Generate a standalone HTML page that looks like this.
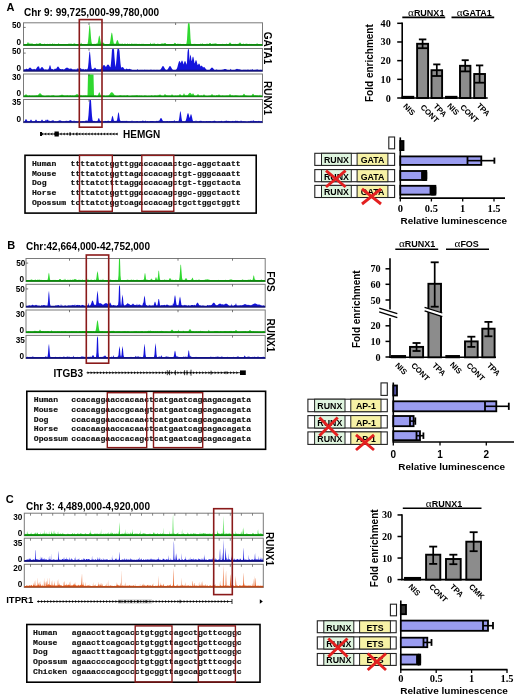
<!DOCTYPE html>
<html><head><meta charset="utf-8"><style>
html,body{margin:0;padding:0;background:#fff;}
svg{display:block;filter:blur(0.3px);}
</style></head><body>
<svg width="520" height="698" viewBox="0 0 520 698">
<rect width="520" height="698" fill="#fff"/>
<text x="6.4" y="10.6" font-family="Liberation Sans" font-size="11" font-weight="bold" text-anchor="start" fill="#000">A</text>
<text x="24" y="15.5" font-family="Liberation Sans" font-size="10" font-weight="bold" text-anchor="start" fill="#000">Chr 9: 99,725,000-99,780,000</text>
<rect x="23.50" y="22.80" width="239.00" height="22.70" fill="none" stroke="#7a7a7a" stroke-width="1"/>
<polygon points="24.00,44.9 24.00,44.7 24.50,44.5 25.00,44.2 25.50,44.5 26.00,44.5 26.50,43.9 27.00,43.7 27.50,42.8 28.00,41.9 28.50,42.8 29.00,43.8 29.50,43.7 30.00,42.4 30.50,44.0 31.00,43.7 31.50,43.5 32.00,43.5 32.50,43.4 33.00,43.9 33.50,44.2 34.00,44.1 34.50,44.2 35.00,44.2 35.50,44.1 36.00,43.8 36.50,43.5 37.00,43.4 37.50,43.9 38.00,43.6 38.50,43.7 39.00,43.7 39.50,43.1 40.00,42.9 40.50,43.1 41.00,43.7 41.50,44.1 42.00,43.8 42.50,44.2 43.00,44.5 43.50,44.4 44.00,43.9 44.50,43.6 45.00,44.1 45.50,44.4 46.00,44.3 46.50,44.4 47.00,44.0 47.50,43.7 48.00,43.9 48.50,43.9 49.00,43.9 49.50,43.8 50.00,43.9 50.50,43.8 51.00,44.0 51.50,44.0 52.00,44.3 52.50,43.0 53.00,44.0 53.50,43.9 54.00,43.8 54.50,43.7 55.00,44.2 55.50,44.0 56.00,44.2 56.50,44.0 57.00,44.1 57.50,44.2 58.00,44.2 58.50,42.9 59.00,43.8 59.50,44.1 60.00,44.2 60.50,44.2 61.00,44.4 61.50,44.4 62.00,44.3 62.50,44.4 63.00,44.1 63.50,44.1 64.00,44.3 64.50,44.4 65.00,44.0 65.50,44.2 66.00,44.0 66.50,44.1 67.00,44.2 67.50,44.3 68.00,44.2 68.50,44.2 69.00,42.7 69.50,43.9 70.00,44.0 70.50,43.7 71.00,43.6 71.50,43.7 72.00,44.0 72.50,44.2 73.00,44.0 73.50,43.8 74.00,43.6 74.50,43.4 75.00,43.4 75.50,44.0 76.00,44.2 76.50,44.0 77.00,44.1 77.50,44.0 78.00,44.2 78.50,44.1 79.00,44.2 79.50,44.1 80.00,44.3 80.50,43.9 81.00,42.6 81.50,43.6 82.00,43.9 82.50,43.9 83.00,44.0 83.50,44.3 84.00,44.5 84.50,44.6 85.00,44.1 85.50,44.1 86.00,44.2 86.50,44.0 87.00,44.1 87.50,43.9 88.00,41.5 88.50,36.5 89.00,29.8 89.50,24.9 90.00,25.5 90.50,31.1 91.00,37.7 91.50,42.1 92.00,43.8 92.50,44.1 93.00,43.9 93.50,44.0 94.00,43.7 94.50,43.9 95.00,43.7 95.50,43.9 96.00,43.7 96.50,43.5 97.00,43.6 97.50,43.6 98.00,41.6 98.50,38.5 99.00,35.9 99.50,35.6 100.00,37.9 100.50,41.0 101.00,43.3 101.50,43.7 102.00,42.2 102.50,42.7 103.00,42.4 103.50,42.7 104.00,43.4 104.50,43.8 105.00,44.1 105.50,44.0 106.00,44.1 106.50,44.1 107.00,44.1 107.50,44.1 108.00,44.1 108.50,44.3 109.00,44.0 109.50,44.0 110.00,42.4 110.50,39.5 111.00,35.8 111.50,32.9 112.00,32.5 112.50,35.0 113.00,38.8 113.50,41.9 114.00,43.8 114.50,43.7 115.00,43.6 115.50,43.9 116.00,43.0 116.50,41.6 117.00,40.3 117.50,39.9 118.00,40.7 118.50,42.2 119.00,43.5 119.50,43.7 120.00,43.7 120.50,43.9 121.00,43.6 121.50,43.9 122.00,43.8 122.50,43.6 123.00,43.9 123.50,44.1 124.00,43.9 124.50,43.7 125.00,43.5 125.50,43.8 126.00,44.2 126.50,43.9 127.00,44.0 127.50,43.3 128.00,44.0 128.50,44.2 129.00,43.8 129.50,43.8 130.00,44.1 130.50,44.3 131.00,43.9 131.50,43.6 132.00,43.6 132.50,43.9 133.00,43.8 133.50,44.1 134.00,43.7 134.50,43.8 135.00,43.9 135.50,43.8 136.00,43.8 136.50,43.8 137.00,44.1 137.50,43.9 138.00,43.7 138.50,43.9 139.00,43.9 139.50,43.8 140.00,44.0 140.50,44.3 141.00,44.0 141.50,43.8 142.00,44.1 142.50,43.8 143.00,43.9 143.50,43.7 144.00,44.0 144.50,43.9 145.00,44.1 145.50,44.3 146.00,44.5 146.50,44.1 147.00,44.3 147.50,44.2 148.00,43.9 148.50,43.9 149.00,44.0 149.50,44.0 150.00,44.2 150.50,42.5 151.00,43.7 151.50,43.9 152.00,43.9 152.50,43.6 153.00,43.9 153.50,43.9 154.00,42.4 154.50,43.8 155.00,43.8 155.50,44.1 156.00,44.4 156.50,44.1 157.00,44.0 157.50,43.7 158.00,43.6 158.50,44.1 159.00,44.3 159.50,44.1 160.00,44.2 160.50,44.0 161.00,43.7 161.50,43.5 162.00,43.5 162.50,43.5 163.00,43.4 163.50,43.5 164.00,43.7 164.50,43.1 165.00,42.9 165.50,43.1 166.00,43.7 166.50,44.2 167.00,43.9 167.50,44.2 168.00,44.0 168.50,44.1 169.00,44.0 169.50,44.3 170.00,44.0 170.50,44.0 171.00,44.2 171.50,44.2 172.00,44.5 172.50,44.5 173.00,43.8 173.50,44.3 174.00,43.7 174.50,42.7 175.00,42.9 175.50,43.1 176.00,43.7 176.50,44.3 177.00,44.0 177.50,43.8 178.00,43.6 178.50,43.9 179.00,43.7 179.50,43.9 180.00,43.8 180.50,43.8 181.00,44.2 181.50,44.5 182.00,44.2 182.50,44.3 183.00,44.2 183.50,43.8 184.00,44.2 184.50,44.1 185.00,44.3 185.50,43.9 186.00,44.0 186.50,43.4 187.00,39.5 187.50,30.8 188.00,23.3 188.50,23.3 189.00,23.3 189.50,23.3 190.00,28.5 190.50,38.2 191.00,42.9 191.50,44.3 192.00,44.5 192.50,44.1 193.00,44.4 193.50,44.0 194.00,43.7 194.50,43.9 195.00,43.8 195.50,43.9 196.00,44.0 196.50,44.3 197.00,44.5 197.50,44.2 198.00,44.4 198.50,44.2 199.00,44.4 199.50,43.9 200.00,43.9 200.50,43.7 201.00,43.6 201.50,44.0 202.00,44.3 202.50,42.7 203.00,44.5 203.50,44.6 204.00,44.6 204.50,44.3 205.00,44.0 205.50,44.1 206.00,44.1 206.50,43.8 207.00,43.7 207.50,43.8 208.00,43.7 208.50,43.9 209.00,43.7 209.50,43.1 210.00,42.9 210.50,43.1 211.00,43.7 211.50,43.9 212.00,44.1 212.50,43.8 213.00,43.6 213.50,43.7 214.00,43.8 214.50,43.5 215.00,43.4 215.50,43.4 216.00,43.3 216.50,43.7 217.00,44.1 217.50,43.9 218.00,43.9 218.50,44.3 219.00,44.3 219.50,44.3 220.00,44.0 220.50,44.3 221.00,44.2 221.50,44.4 222.00,44.1 222.50,43.7 223.00,43.9 223.50,44.1 224.00,44.0 224.50,44.1 225.00,44.2 225.50,43.9 226.00,44.1 226.50,43.6 227.00,43.9 227.50,44.2 228.00,44.3 228.50,44.1 229.00,43.4 229.50,42.7 230.00,42.4 230.50,42.7 231.00,43.4 231.50,44.1 232.00,43.9 232.50,44.1 233.00,44.1 233.50,44.0 234.00,43.8 234.50,44.1 235.00,43.9 235.50,43.7 236.00,44.0 236.50,44.3 237.00,43.9 237.50,44.0 238.00,43.7 238.50,43.7 239.00,43.4 239.50,42.7 240.00,42.4 240.50,42.7 241.00,43.4 241.50,44.0 242.00,44.3 242.50,44.1 243.00,43.8 243.50,43.6 244.00,44.1 244.50,44.0 245.00,44.2 245.50,43.8 246.00,43.8 246.50,43.8 247.00,43.6 247.50,44.0 248.00,44.2 248.50,43.9 249.00,44.1 249.50,43.7 250.00,43.9 250.50,44.2 251.00,43.8 251.50,44.1 252.00,44.3 252.50,44.0 253.00,43.9 253.50,44.3 254.00,43.9 254.50,44.1 255.00,44.2 255.50,44.5 256.00,43.9 256.50,43.7 257.00,43.4 257.50,43.6 258.00,44.1 258.50,44.3 259.00,43.9 259.50,44.3 260.00,44.1 260.50,44.4 261.00,43.9 261.50,44.2 262.00,44.4 262.00,44.9" fill="#2fd82f"/>
<line x1="23.50" y1="44.90" x2="262.50" y2="44.90" stroke="#0c8c0c" stroke-width="1.6"/>
<line x1="89.00" y1="22.80" x2="89.00" y2="25.00" stroke="#555" stroke-width="0.8"/>
<line x1="175.60" y1="22.80" x2="175.60" y2="25.00" stroke="#555" stroke-width="0.8"/>
<line x1="23.50" y1="27.40" x2="25.70" y2="27.40" stroke="#555" stroke-width="0.8"/>
<rect x="23.50" y="48.50" width="239.00" height="22.70" fill="none" stroke="#7a7a7a" stroke-width="1"/>
<polygon points="24.00,70.6 24.00,69.9 24.50,69.3 25.00,69.0 25.50,69.6 26.00,68.9 26.50,68.6 27.00,68.9 27.50,69.0 28.00,69.4 28.50,68.8 29.00,68.2 29.50,67.8 30.00,67.6 30.50,67.8 31.00,68.2 31.50,68.8 32.00,69.3 32.50,69.2 33.00,69.5 33.50,69.2 34.00,68.8 34.50,69.1 35.00,69.5 35.50,69.6 36.00,69.0 36.50,68.2 37.00,67.4 37.50,66.8 38.00,66.6 38.50,66.5 39.00,66.3 39.50,68.2 40.00,69.0 40.50,68.5 41.00,67.8 41.50,67.3 42.00,67.1 42.50,67.3 43.00,67.8 43.50,68.5 44.00,69.2 44.50,69.7 45.00,69.5 45.50,69.6 46.00,69.4 46.50,69.5 47.00,69.9 47.50,69.4 48.00,69.7 48.50,68.9 49.00,68.1 49.50,66.1 50.00,65.1 50.50,66.1 51.00,68.1 51.50,69.3 52.00,69.0 52.50,68.9 53.00,69.5 53.50,69.8 54.00,69.8 54.50,69.0 55.00,68.5 55.50,68.8 56.00,69.0 56.50,68.2 57.00,67.4 57.50,66.8 58.00,66.6 58.50,66.8 59.00,67.4 59.50,68.2 60.00,68.9 60.50,68.9 61.00,69.1 61.50,69.4 62.00,69.0 62.50,69.3 63.00,69.1 63.50,69.7 64.00,69.6 64.50,69.2 65.00,68.8 65.50,68.3 66.00,68.0 66.50,67.7 67.00,67.6 67.50,67.7 68.00,68.0 68.50,68.3 69.00,68.8 69.50,68.7 70.00,68.7 70.50,68.6 71.00,68.6 71.50,68.7 72.00,68.8 72.50,69.5 73.00,69.4 73.50,69.6 74.00,69.3 74.50,69.3 75.00,69.8 75.50,69.7 76.00,68.6 76.50,69.7 77.00,69.4 77.50,67.7 78.00,69.3 78.50,69.1 79.00,67.9 79.50,68.2 80.00,68.1 80.50,68.2 81.00,68.6 81.50,69.0 82.00,69.5 82.50,69.3 83.00,68.7 83.50,69.1 84.00,69.7 84.50,69.4 85.00,69.7 85.50,69.1 86.00,69.2 86.50,69.4 87.00,69.5 87.50,68.9 88.00,67.3 88.50,62.5 89.00,56.0 89.50,51.4 90.00,52.0 90.50,57.3 91.00,63.7 91.50,67.5 92.00,69.3 92.50,68.9 93.00,69.3 93.50,68.7 94.00,68.8 94.50,68.0 95.00,67.6 95.50,68.0 96.00,68.8 96.50,69.2 97.00,69.2 97.50,68.9 98.00,69.6 98.50,69.5 99.00,68.9 99.50,69.6 100.00,69.5 100.50,69.2 101.00,68.8 101.50,68.1 102.00,67.3 102.50,66.4 103.00,65.7 103.50,65.3 104.00,65.1 104.50,65.3 105.00,65.7 105.50,66.4 106.00,67.0 106.50,66.1 107.00,65.3 107.50,64.8 108.00,64.6 108.50,64.8 109.00,65.3 109.50,66.1 110.00,67.0 110.50,67.2 111.00,63.1 111.50,56.9 112.00,49.4 112.50,49.0 113.00,49.0 113.50,49.0 114.00,49.4 114.50,56.9 115.00,63.1 115.50,67.2 116.00,64.3 116.50,59.1 117.00,52.4 117.50,49.0 118.00,49.0 118.50,49.0 119.00,49.0 119.50,51.0 120.00,57.8 120.50,63.4 121.00,67.1 121.50,67.8 122.00,67.3 122.50,67.1 123.00,67.3 123.50,67.8 124.00,68.5 124.50,69.2 125.00,69.2 125.50,69.5 126.00,68.9 126.50,68.6 127.00,68.7 127.50,69.2 128.00,69.1 128.50,69.3 129.00,68.9 129.50,68.7 130.00,69.0 130.50,69.3 131.00,69.4 131.50,69.5 132.00,70.1 132.50,70.0 133.00,70.3 133.50,69.9 134.00,69.9 134.50,70.1 135.00,70.2 135.50,70.2 136.00,70.3 136.50,70.2 137.00,70.2 137.50,68.8 138.00,70.1 138.50,69.9 139.00,69.9 139.50,70.1 140.00,70.2 140.50,69.9 141.00,69.8 141.50,70.2 142.00,69.8 142.50,70.0 143.00,70.1 143.50,69.9 144.00,70.0 144.50,69.7 145.00,69.8 145.50,70.1 146.00,69.9 146.50,70.1 147.00,69.8 147.50,69.9 148.00,70.1 148.50,70.1 149.00,70.2 149.50,70.4 150.00,70.4 150.50,70.3 151.00,69.0 151.50,70.4 152.00,70.2 152.50,70.3 153.00,70.4 153.50,70.0 154.00,69.7 154.50,70.1 155.00,70.0 155.50,70.0 156.00,69.9 156.50,70.0 157.00,69.8 157.50,70.0 158.00,70.2 158.50,69.9 159.00,70.1 159.50,70.2 160.00,70.0 160.50,69.5 161.00,68.7 161.50,67.9 162.00,67.0 162.50,66.3 163.00,66.1 163.50,66.3 164.00,67.0 164.50,67.9 165.00,68.7 165.50,69.5 166.00,69.9 166.50,70.0 167.00,70.0 167.50,69.5 168.00,68.7 168.50,67.9 169.00,67.0 169.50,66.3 170.00,66.1 170.50,66.3 171.00,67.0 171.50,67.9 172.00,68.7 172.50,69.5 173.00,70.0 173.50,70.1 174.00,69.9 174.50,70.0 175.00,70.0 175.50,70.0 176.00,69.7 176.50,69.3 177.00,68.2 177.50,66.7 178.00,64.8 178.50,63.0 179.00,61.6 179.50,61.1 180.00,61.6 180.50,63.0 181.00,62.6 181.50,61.1 182.00,60.6 182.50,61.1 183.00,62.6 183.50,64.5 184.00,63.0 184.50,61.6 185.00,61.1 185.50,61.6 186.00,63.0 186.50,64.8 187.00,62.6 187.50,52.4 188.00,49.0 188.50,49.0 189.00,50.1 189.50,60.9 190.00,56.5 190.50,54.6 191.00,56.5 191.50,60.9 192.00,60.2 192.50,57.6 193.00,56.6 193.50,57.6 194.00,60.2 194.50,63.4 195.00,62.5 195.50,60.7 196.00,60.1 196.50,60.7 197.00,62.5 197.50,64.7 198.00,65.0 198.50,64.0 199.00,63.6 199.50,64.0 200.00,65.0 200.50,66.4 201.00,65.9 201.50,65.6 202.00,65.9 202.50,66.6 203.00,67.6 203.50,67.3 204.00,67.1 204.50,67.3 205.00,67.8 205.50,68.5 206.00,69.2 206.50,69.7 207.00,70.0 207.50,69.9 208.00,69.9 208.50,70.0 209.00,70.1 209.50,69.9 210.00,69.4 210.50,68.8 211.00,68.2 211.50,67.8 212.00,67.6 212.50,67.8 213.00,68.2 213.50,68.8 214.00,69.4 214.50,69.9 215.00,70.2 215.50,70.0 216.00,69.8 216.50,69.6 217.00,69.7 217.50,70.0 218.00,70.2 218.50,70.1 219.00,69.9 219.50,70.2 220.00,70.0 220.50,70.2 221.00,70.1 221.50,70.1 222.00,69.7 222.50,69.7 223.00,69.7 223.50,69.5 224.00,69.3 224.50,69.1 225.00,69.1 225.50,69.1 226.00,69.3 226.50,69.5 227.00,69.7 227.50,69.9 228.00,70.1 228.50,70.3 229.00,69.9 229.50,70.0 230.00,70.2 230.50,68.8 231.00,69.6 231.50,70.0 232.00,69.9 232.50,70.1 233.00,70.0 233.50,70.2 234.00,69.8 234.50,69.9 235.00,69.9 235.50,69.5 236.00,69.2 236.50,68.9 237.00,68.8 237.50,68.9 238.00,69.2 238.50,69.3 239.00,69.3 239.50,69.4 240.00,69.3 240.50,69.7 241.00,69.9 241.50,70.0 242.00,70.2 242.50,70.1 243.00,70.1 243.50,69.8 244.00,70.1 244.50,69.8 245.00,70.0 245.50,69.7 246.00,70.1 246.50,70.0 247.00,69.8 247.50,69.7 248.00,69.8 248.50,69.7 249.00,70.0 249.50,70.0 250.00,70.0 250.50,69.7 251.00,69.7 251.50,69.8 252.00,70.0 252.50,68.8 253.00,69.9 253.50,69.9 254.00,70.1 254.50,70.3 255.00,69.8 255.50,70.1 256.00,69.8 256.50,69.8 257.00,69.6 257.50,69.5 258.00,69.8 258.50,70.1 259.00,69.9 259.50,70.0 260.00,70.0 260.50,69.8 261.00,69.9 261.50,69.9 262.00,69.9 262.00,70.6" fill="#1414dc"/>
<line x1="23.50" y1="70.60" x2="262.50" y2="70.60" stroke="#10108a" stroke-width="1.6"/>
<line x1="89.00" y1="48.50" x2="89.00" y2="50.70" stroke="#555" stroke-width="0.8"/>
<line x1="175.60" y1="48.50" x2="175.60" y2="50.70" stroke="#555" stroke-width="0.8"/>
<line x1="23.50" y1="53.10" x2="25.70" y2="53.10" stroke="#555" stroke-width="0.8"/>
<rect x="23.50" y="74.00" width="239.00" height="22.80" fill="none" stroke="#7a7a7a" stroke-width="1"/>
<polygon points="24.00,96.2 24.00,95.9 24.50,95.6 25.00,95.0 25.50,94.4 26.00,94.2 26.50,94.4 27.00,95.0 27.50,95.6 28.00,95.8 28.50,95.7 29.00,95.4 29.50,95.3 30.00,95.6 30.50,95.7 31.00,95.8 31.50,95.7 32.00,95.6 32.50,95.8 33.00,95.6 33.50,95.7 34.00,95.7 34.50,95.5 35.00,95.7 35.50,95.6 36.00,95.5 36.50,95.3 37.00,95.5 37.50,95.5 38.00,95.0 38.50,94.4 39.00,93.8 39.50,93.4 40.00,93.2 40.50,93.4 41.00,93.8 41.50,94.4 42.00,95.0 42.50,95.4 43.00,95.6 43.50,95.8 44.00,95.9 44.50,96.0 45.00,96.0 45.50,95.9 46.00,96.0 46.50,95.8 47.00,95.6 47.50,95.7 48.00,95.7 48.50,95.5 49.00,95.7 49.50,95.8 50.00,95.7 50.50,95.9 51.00,95.8 51.50,95.5 52.00,95.5 52.50,95.5 53.00,95.3 53.50,95.3 54.00,95.4 54.50,95.7 55.00,95.9 55.50,95.9 56.00,95.9 56.50,96.0 57.00,96.0 57.50,96.1 58.00,95.8 58.50,95.9 59.00,95.8 59.50,95.6 60.00,95.6 60.50,95.3 61.00,95.0 61.50,94.8 62.00,94.7 62.50,94.8 63.00,95.0 63.50,95.3 64.00,95.4 64.50,95.5 65.00,95.4 65.50,95.4 66.00,95.6 66.50,95.4 67.00,95.3 67.50,95.3 68.00,95.4 68.50,95.4 69.00,95.8 69.50,95.5 70.00,95.3 70.50,95.2 71.00,95.5 71.50,95.7 72.00,95.6 72.50,95.4 73.00,95.4 73.50,95.7 74.00,95.5 74.50,95.4 75.00,95.4 75.50,95.0 76.00,94.6 76.50,94.3 77.00,94.2 77.50,94.3 78.00,94.6 78.50,95.0 79.00,95.4 79.50,95.6 80.00,94.6 80.50,95.6 81.00,95.4 81.50,95.3 82.00,95.6 82.50,95.7 83.00,95.6 83.50,95.6 84.00,95.4 84.50,95.5 85.00,95.4 85.50,95.3 86.00,95.4 86.50,95.7 87.00,94.9 87.50,95.9 88.00,74.5 88.50,74.5 89.00,74.5 89.50,74.5 90.00,74.5 90.50,74.5 91.00,74.5 91.50,74.5 92.00,74.5 92.50,74.5 93.00,74.5 93.50,74.5 94.00,95.5 94.50,95.3 95.00,95.4 95.50,95.3 96.00,95.6 96.50,95.8 97.00,95.9 97.50,95.7 98.00,95.1 98.50,93.8 99.00,92.5 99.50,92.3 100.00,93.5 100.50,94.9 101.00,95.6 101.50,95.6 102.00,95.8 102.50,94.9 103.00,95.2 103.50,95.6 104.00,95.8 104.50,95.6 105.00,95.8 105.50,95.9 106.00,95.9 106.50,95.8 107.00,95.6 107.50,95.8 108.00,95.7 108.50,95.5 109.00,95.0 109.50,94.4 110.00,93.8 110.50,93.1 111.00,92.6 111.50,92.3 112.00,92.2 112.50,92.5 113.00,93.0 113.50,93.6 114.00,94.3 114.50,94.9 115.00,95.4 115.50,95.6 116.00,95.4 116.50,95.9 117.00,95.7 117.50,95.7 118.00,95.9 118.50,95.8 119.00,95.5 119.50,95.6 120.00,95.3 120.50,95.3 121.00,95.3 121.50,95.5 122.00,95.7 122.50,95.6 123.00,95.7 123.50,95.5 124.00,95.5 124.50,95.6 125.00,95.6 125.50,95.7 126.00,95.4 126.50,95.5 127.00,95.3 127.50,95.0 128.00,95.5 128.50,95.7 129.00,95.9 129.50,96.0 130.00,95.7 130.50,96.0 131.00,95.8 131.50,95.7 132.00,95.5 132.50,95.6 133.00,95.8 133.50,95.6 134.00,95.5 134.50,95.5 135.00,95.4 135.50,95.4 136.00,95.3 136.50,95.3 137.00,95.2 137.50,95.3 138.00,95.6 138.50,95.7 139.00,95.5 139.50,95.5 140.00,95.4 140.50,95.7 141.00,95.6 141.50,95.6 142.00,95.8 142.50,95.8 143.00,95.9 143.50,95.9 144.00,95.5 144.50,95.6 145.00,95.5 145.50,95.5 146.00,95.7 146.50,95.8 147.00,95.8 147.50,96.0 148.00,95.9 148.50,95.7 149.00,95.8 149.50,95.7 150.00,95.9 150.50,95.9 151.00,95.0 151.50,95.4 152.00,95.5 152.50,95.7 153.00,95.8 153.50,95.9 154.00,95.6 154.50,95.4 155.00,95.3 155.50,95.6 156.00,95.6 156.50,95.6 157.00,95.7 157.50,95.7 158.00,94.6 158.50,95.4 159.00,95.3 159.50,94.8 160.00,94.2 160.50,94.8 161.00,95.5 161.50,95.6 162.00,95.8 162.50,95.8 163.00,95.9 163.50,95.7 164.00,95.6 164.50,94.4 165.00,93.7 165.50,94.4 166.00,95.3 166.50,95.3 167.00,95.3 167.50,95.5 168.00,95.4 168.50,95.5 169.00,95.6 169.50,95.4 170.00,95.4 170.50,95.4 171.00,95.7 171.50,94.8 172.00,94.2 172.50,94.8 173.00,95.5 173.50,95.7 174.00,95.7 174.50,95.8 175.00,95.7 175.50,95.5 176.00,95.6 176.50,95.7 177.00,95.8 177.50,95.5 178.00,95.6 178.50,95.4 179.00,95.6 179.50,94.4 180.00,93.7 180.50,94.4 181.00,95.3 181.50,95.4 182.00,95.7 182.50,95.5 183.00,95.4 183.50,94.1 184.00,93.2 184.50,94.1 185.00,95.5 185.50,95.4 186.00,94.5 186.50,95.6 187.00,95.6 187.50,95.3 188.00,94.8 188.50,94.1 189.00,93.4 189.50,92.9 190.00,92.7 190.50,92.9 191.00,93.4 191.50,94.1 192.00,94.8 192.50,93.7 193.00,93.2 193.50,93.7 194.00,94.8 194.50,95.5 195.00,95.8 195.50,95.7 196.00,95.8 196.50,95.6 197.00,95.6 197.50,94.4 198.00,93.7 198.50,94.4 199.00,95.4 199.50,95.6 200.00,95.7 200.50,95.4 201.00,95.5 201.50,95.3 202.00,95.7 202.50,95.7 203.00,95.5 203.50,94.8 204.00,94.2 204.50,94.8 205.00,95.7 205.50,95.7 206.00,95.7 206.50,95.9 207.00,95.9 207.50,95.9 208.00,95.9 208.50,95.7 209.00,95.7 209.50,95.7 210.00,95.4 210.50,95.6 211.00,95.6 211.50,94.4 212.00,93.7 212.50,94.4 213.00,95.4 213.50,95.6 214.00,95.4 214.50,95.6 215.00,95.7 215.50,95.9 216.00,95.6 216.50,95.1 217.00,95.5 217.50,95.3 218.00,95.5 218.50,94.8 219.00,94.2 219.50,94.8 220.00,95.4 220.50,95.6 221.00,95.7 221.50,95.8 222.00,95.6 222.50,95.2 223.00,95.8 223.50,95.5 224.00,95.7 224.50,95.8 225.00,95.6 225.50,95.8 226.00,95.6 226.50,95.5 227.00,95.5 227.50,95.4 228.00,95.4 228.50,95.4 229.00,95.6 229.50,94.4 230.00,93.7 230.50,94.4 231.00,95.6 231.50,95.5 232.00,95.3 232.50,95.4 233.00,95.3 233.50,95.7 234.00,95.8 234.50,95.5 235.00,95.3 235.50,95.3 236.00,95.5 236.50,95.3 237.00,95.4 237.50,95.6 238.00,95.8 238.50,95.8 239.00,95.7 239.50,95.9 240.00,95.7 240.50,95.7 241.00,95.5 241.50,95.8 242.00,95.8 242.50,95.6 243.00,95.1 243.50,94.1 244.00,93.7 244.50,94.1 245.00,95.1 245.50,95.5 246.00,95.6 246.50,95.5 247.00,95.8 247.50,95.7 248.00,95.7 248.50,95.7 249.00,95.9 249.50,95.7 250.00,95.9 250.50,95.8 251.00,95.9 251.50,95.8 252.00,95.1 252.50,94.1 253.00,93.7 253.50,94.1 254.00,95.1 254.50,95.4 255.00,95.3 255.50,95.2 256.00,95.2 256.50,95.4 257.00,95.3 257.50,95.6 258.00,95.6 258.50,95.8 259.00,95.6 259.50,95.8 260.00,94.6 260.50,95.8 261.00,95.7 261.50,95.7 262.00,95.6 262.00,96.2" fill="#2fd82f"/>
<line x1="23.50" y1="96.20" x2="262.50" y2="96.20" stroke="#0c8c0c" stroke-width="1.6"/>
<line x1="89.00" y1="74.00" x2="89.00" y2="76.20" stroke="#555" stroke-width="0.8"/>
<line x1="175.60" y1="74.00" x2="175.60" y2="76.20" stroke="#555" stroke-width="0.8"/>
<rect x="23.50" y="99.50" width="239.00" height="23.10" fill="none" stroke="#7a7a7a" stroke-width="1"/>
<polygon points="24.00,122.0 24.00,121.7 24.50,121.5 25.00,120.6 25.50,119.5 26.00,119.0 26.50,119.5 27.00,120.6 27.50,121.0 28.00,121.2 28.50,121.2 29.00,121.1 29.50,121.2 30.00,120.9 30.50,119.9 31.00,119.5 31.50,119.9 32.00,120.9 32.50,121.5 33.00,121.1 33.50,121.2 34.00,121.5 34.50,121.0 35.00,120.9 35.50,119.9 36.00,119.5 36.50,119.9 37.00,120.9 37.50,121.2 38.00,121.0 38.50,121.0 39.00,121.0 39.50,121.3 40.00,121.2 40.50,121.3 41.00,120.9 41.50,119.9 42.00,119.5 42.50,119.9 43.00,120.9 43.50,120.9 44.00,121.1 44.50,121.1 45.00,121.1 45.50,119.6 46.00,120.9 46.50,119.9 47.00,119.5 47.50,119.9 48.00,119.5 48.50,120.8 49.00,120.8 49.50,120.7 50.00,121.1 50.50,121.2 51.00,120.9 51.50,120.8 52.00,120.7 52.50,120.4 53.00,120.0 53.50,120.4 54.00,121.1 54.50,121.5 55.00,121.2 55.50,121.3 56.00,121.2 56.50,121.4 57.00,121.2 57.50,121.2 58.00,121.0 58.50,120.7 59.00,120.7 59.50,120.4 60.00,120.0 60.50,120.4 61.00,121.0 61.50,120.8 62.00,121.3 62.50,121.2 63.00,121.3 63.50,121.2 64.00,121.1 64.50,121.5 65.00,121.0 65.50,121.0 66.00,120.8 66.50,120.8 67.00,121.1 67.50,120.9 68.00,120.8 68.50,121.0 69.00,121.1 69.50,120.4 70.00,120.0 70.50,120.4 71.00,119.8 71.50,120.9 72.00,121.0 72.50,121.3 73.00,121.4 73.50,121.4 74.00,119.9 74.50,121.3 75.00,121.6 75.50,121.3 76.00,120.9 76.50,121.3 77.00,121.4 77.50,121.5 78.00,121.6 78.50,121.1 79.00,121.2 79.50,121.2 80.00,121.2 80.50,121.4 81.00,121.3 81.50,121.2 82.00,121.5 82.50,121.1 83.00,121.3 83.50,121.1 84.00,121.4 84.50,121.5 85.00,121.0 85.50,120.7 86.00,120.6 86.50,120.5 87.00,120.9 87.50,120.9 88.00,119.3 88.50,114.9 89.00,107.4 89.50,100.0 90.00,100.0 90.50,100.0 91.00,100.2 91.50,109.1 92.00,116.1 92.50,119.9 93.00,121.1 93.50,120.9 94.00,120.8 94.50,120.9 95.00,121.3 95.50,121.3 96.00,121.3 96.50,121.2 97.00,121.0 97.50,120.9 98.00,119.6 98.50,118.3 99.00,118.1 99.50,119.3 100.00,120.7 100.50,120.8 101.00,121.2 101.50,121.2 102.00,121.3 102.50,121.5 103.00,121.1 103.50,121.4 104.00,121.6 104.50,121.2 105.00,120.8 105.50,121.1 106.00,121.1 106.50,121.3 107.00,121.1 107.50,121.0 108.00,120.4 108.50,120.7 109.00,121.1 109.50,121.3 110.00,120.9 110.50,121.2 111.00,120.9 111.50,119.1 112.00,116.8 112.50,115.7 113.00,116.8 113.50,119.1 114.00,120.9 114.50,120.7 115.00,121.0 115.50,120.8 116.00,121.2 116.50,120.8 117.00,120.3 117.50,117.4 118.00,113.8 118.50,112.0 119.00,113.8 119.50,117.4 120.00,120.3 120.50,120.7 121.00,121.1 121.50,121.1 122.00,121.0 122.50,121.0 123.00,120.8 123.50,121.2 124.00,120.8 124.50,121.1 125.00,121.3 125.50,121.1 126.00,120.8 126.50,121.1 127.00,120.8 127.50,121.3 128.00,121.5 128.50,121.5 129.00,120.7 129.50,121.6 130.00,121.6 130.50,121.3 131.00,121.3 131.50,121.4 132.00,119.9 132.50,121.4 133.00,121.6 133.50,121.3 134.00,121.2 134.50,121.4 135.00,121.2 135.50,121.4 136.00,121.3 136.50,121.3 137.00,120.9 137.50,121.0 138.00,121.4 138.50,121.4 139.00,121.4 139.50,121.3 140.00,121.5 140.50,121.1 141.00,121.3 141.50,121.3 142.00,120.9 142.50,120.6 143.00,120.7 143.50,120.8 144.00,121.2 144.50,121.3 145.00,120.9 145.50,120.6 146.00,121.1 146.50,121.5 147.00,121.3 147.50,121.1 148.00,121.3 148.50,121.4 149.00,121.3 149.50,121.5 150.00,121.0 150.50,121.1 151.00,121.1 151.50,121.0 152.00,120.9 152.50,121.0 153.00,121.0 153.50,121.3 154.00,121.0 154.50,121.4 155.00,121.2 155.50,121.4 156.00,121.1 156.50,120.8 157.00,121.3 157.50,121.1 158.00,120.7 158.50,120.7 159.00,121.0 159.50,120.2 160.00,119.2 160.50,118.3 161.00,118.0 161.50,118.3 162.00,119.2 162.50,120.2 163.00,120.9 163.50,121.2 164.00,121.1 164.50,121.4 165.00,121.3 165.50,121.3 166.00,121.4 166.50,121.0 167.00,121.3 167.50,121.0 168.00,121.0 168.50,121.4 169.00,121.5 169.50,121.1 170.00,120.9 170.50,121.2 171.00,121.3 171.50,120.9 172.00,121.0 172.50,121.1 173.00,121.3 173.50,121.1 174.00,120.7 174.50,120.0 175.00,121.4 175.50,121.2 176.00,121.2 176.50,121.0 177.00,121.1 177.50,121.2 178.00,121.5 178.50,121.3 179.00,119.6 179.50,116.2 180.00,112.3 180.50,111.1 181.00,113.7 181.50,117.7 182.00,120.5 182.50,121.5 183.00,121.6 183.50,121.3 184.00,121.5 184.50,121.6 185.00,121.3 185.50,121.0 186.00,119.8 186.50,117.9 187.00,115.6 187.50,113.7 188.00,113.0 188.50,113.7 189.00,115.6 189.50,117.9 190.00,117.1 190.50,114.9 191.00,114.0 191.50,114.9 192.00,117.1 192.50,119.4 193.00,120.9 193.50,121.6 194.00,121.3 194.50,121.3 195.00,121.4 195.50,121.5 196.00,120.0 196.50,121.6 197.00,121.6 197.50,121.2 198.00,121.3 198.50,121.5 199.00,121.2 199.50,121.0 200.00,120.7 200.50,120.8 201.00,120.9 201.50,120.8 202.00,121.2 202.50,121.4 203.00,121.2 203.50,121.3 204.00,121.2 204.50,121.4 205.00,121.3 205.50,121.4 206.00,121.3 206.50,121.1 207.00,121.0 207.50,121.3 208.00,121.5 208.50,121.1 209.00,121.3 209.50,120.9 210.00,121.2 210.50,120.9 211.00,121.1 211.50,121.4 212.00,121.6 212.50,121.3 213.00,120.9 213.50,121.1 214.00,120.8 214.50,120.7 215.00,120.7 215.50,121.2 216.00,121.3 216.50,121.4 217.00,121.4 217.50,121.5 218.00,121.4 218.50,121.6 219.00,120.7 219.50,121.6 220.00,121.2 220.50,121.3 221.00,121.0 221.50,120.7 222.00,121.0 222.50,121.4 223.00,121.5 223.50,121.5 224.00,121.2 224.50,121.2 225.00,120.8 225.50,121.0 226.00,120.7 226.50,120.6 227.00,120.9 227.50,121.1 228.00,120.8 228.50,120.9 229.00,120.9 229.50,121.2 230.00,121.0 230.50,121.2 231.00,121.4 231.50,121.2 232.00,121.1 232.50,121.0 233.00,120.7 233.50,121.2 234.00,121.5 234.50,121.0 235.00,120.9 235.50,120.8 236.00,120.6 236.50,121.1 237.00,120.9 237.50,120.7 238.00,121.1 238.50,121.2 239.00,121.5 239.50,121.3 240.00,121.6 240.50,121.6 241.00,119.9 241.50,121.3 242.00,121.3 242.50,121.5 243.00,121.5 243.50,121.3 244.00,121.2 244.50,121.5 245.00,121.3 245.50,121.5 246.00,121.7 246.50,121.8 247.00,121.7 247.50,121.8 248.00,121.7 248.50,121.3 249.00,121.2 249.50,121.5 250.00,121.5 250.50,120.8 251.00,121.1 251.50,121.4 252.00,120.1 252.50,121.6 253.00,121.6 253.50,120.0 254.00,120.8 254.50,121.2 255.00,121.0 255.50,120.9 256.00,121.2 256.50,120.9 257.00,121.0 257.50,121.4 258.00,121.0 258.50,121.0 259.00,120.8 259.50,121.2 260.00,121.3 260.50,121.4 261.00,121.2 261.50,121.2 262.00,121.1 262.00,122.0" fill="#1414dc"/>
<line x1="23.50" y1="122.00" x2="262.50" y2="122.00" stroke="#10108a" stroke-width="1.6"/>
<line x1="89.00" y1="99.50" x2="89.00" y2="101.70" stroke="#555" stroke-width="0.8"/>
<line x1="175.60" y1="99.50" x2="175.60" y2="101.70" stroke="#555" stroke-width="0.8"/>
<text x="21" y="28.1" font-family="Liberation Sans" font-size="8.2" font-weight="bold" text-anchor="end" fill="#000">50</text>
<text x="21" y="44.900000000000006" font-family="Liberation Sans" font-size="8.2" font-weight="bold" text-anchor="end" fill="#000">0</text>
<text x="21" y="54.0" font-family="Liberation Sans" font-size="8.2" font-weight="bold" text-anchor="end" fill="#000">50</text>
<text x="21" y="70.7" font-family="Liberation Sans" font-size="8.2" font-weight="bold" text-anchor="end" fill="#000">0</text>
<text x="21" y="79.6" font-family="Liberation Sans" font-size="8.2" font-weight="bold" text-anchor="end" fill="#000">30</text>
<text x="21" y="96.3" font-family="Liberation Sans" font-size="8.2" font-weight="bold" text-anchor="end" fill="#000">0</text>
<text x="21" y="105.0" font-family="Liberation Sans" font-size="8.2" font-weight="bold" text-anchor="end" fill="#000">35</text>
<text x="21" y="122.10000000000001" font-family="Liberation Sans" font-size="8.2" font-weight="bold" text-anchor="end" fill="#000">0</text>
<text x="264" y="48" font-family="Liberation Sans" font-size="10" font-weight="bold" text-anchor="middle" fill="#000" transform="rotate(90 264 48)">GATA1</text>
<text x="264" y="98" font-family="Liberation Sans" font-size="10" font-weight="bold" text-anchor="middle" fill="#000" transform="rotate(90 264 98)">RUNX1</text>
<rect x="79.30" y="19.60" width="22.70" height="107.60" fill="none" stroke="#8a1a1a" stroke-width="1.6"/>
<line x1="40.00" y1="134.00" x2="118.00" y2="134.00" stroke="#000" stroke-width="0.8"/>
<path d="M43.1,132.5L41.1,134.0L43.1,135.5ZM46.2,132.5L44.2,134.0L46.2,135.5ZM49.3,132.5L47.3,134.0L49.3,135.5ZM52.4,132.5L50.4,134.0L52.4,135.5ZM55.5,132.5L53.5,134.0L55.5,135.5ZM58.6,132.5L56.6,134.0L58.6,135.5ZM61.7,132.5L59.7,134.0L61.7,135.5ZM64.8,132.5L62.8,134.0L64.8,135.5ZM67.9,132.5L65.9,134.0L67.9,135.5ZM71.0,132.5L69.0,134.0L71.0,135.5ZM74.1,132.5L72.1,134.0L74.1,135.5ZM77.2,132.5L75.2,134.0L77.2,135.5ZM80.3,132.5L78.3,134.0L80.3,135.5ZM83.4,132.5L81.4,134.0L83.4,135.5ZM86.5,132.5L84.5,134.0L86.5,135.5ZM89.6,132.5L87.6,134.0L89.6,135.5ZM92.7,132.5L90.7,134.0L92.7,135.5ZM95.8,132.5L93.8,134.0L95.8,135.5ZM98.9,132.5L96.9,134.0L98.9,135.5ZM102.0,132.5L100.0,134.0L102.0,135.5ZM105.1,132.5L103.1,134.0L105.1,135.5ZM108.2,132.5L106.2,134.0L108.2,135.5ZM111.3,132.5L109.3,134.0L111.3,135.5ZM114.4,132.5L112.4,134.0L114.4,135.5ZM117.5,132.5L115.5,134.0L117.5,135.5Z" fill="#000" fill-opacity="0.85"/>
<rect x="40.00" y="132.00" width="2.00" height="4.00" fill="#000" stroke="none" stroke-width="1"/>
<rect x="54.50" y="131.50" width="4.30" height="5.00" fill="#000" stroke="none" stroke-width="1"/>
<line x1="70.00" y1="132.00" x2="70.00" y2="136.00" stroke="#000" stroke-width="0.8"/>
<line x1="77.00" y1="132.50" x2="77.00" y2="135.50" stroke="#000" stroke-width="0.8"/>
<text x="123" y="137.8" font-family="Liberation Sans" font-size="10" font-weight="bold" text-anchor="start" fill="#000">HEMGN</text>
<rect x="25.00" y="155.30" width="231.20" height="57.80" fill="#fff" stroke="#000" stroke-width="1.6"/>
<text x="32.0" y="165.9" font-family="Liberation Mono" font-size="8.1" font-weight="bold" text-anchor="start" fill="#111" stroke="#111" stroke-width="0.18">Human</text>
<text x="70.6" y="165.9" font-family="Liberation Mono" font-size="8.1" font-weight="bold" text-anchor="start" fill="#111" stroke="#111" stroke-width="0.18">ttttatctggttggaccacaactgc-aggctaatt</text>
<text x="32.0" y="175.55" font-family="Liberation Mono" font-size="8.1" font-weight="bold" text-anchor="start" fill="#111" stroke="#111" stroke-width="0.18">Mouse</text>
<text x="70.6" y="175.55" font-family="Liberation Mono" font-size="8.1" font-weight="bold" text-anchor="start" fill="#111" stroke="#111" stroke-width="0.18">ttttatctggttagaccacagctgt-gggcaaatt</text>
<text x="32.0" y="185.20000000000002" font-family="Liberation Mono" font-size="8.1" font-weight="bold" text-anchor="start" fill="#111" stroke="#111" stroke-width="0.18">Dog</text>
<text x="70.6" y="185.20000000000002" font-family="Liberation Mono" font-size="8.1" font-weight="bold" text-anchor="start" fill="#111" stroke="#111" stroke-width="0.18">ttttatcttttaggaccacagctgt-tggctacta</text>
<text x="32.0" y="194.85000000000002" font-family="Liberation Mono" font-size="8.1" font-weight="bold" text-anchor="start" fill="#111" stroke="#111" stroke-width="0.18">Horse</text>
<text x="70.6" y="194.85000000000002" font-family="Liberation Mono" font-size="8.1" font-weight="bold" text-anchor="start" fill="#111" stroke="#111" stroke-width="0.18">ttttatctggttggaccacagcggc-gggctactt</text>
<text x="32.0" y="204.5" font-family="Liberation Mono" font-size="8.1" font-weight="bold" text-anchor="start" fill="#111" stroke="#111" stroke-width="0.18">Opossum</text>
<text x="70.6" y="204.5" font-family="Liberation Mono" font-size="8.1" font-weight="bold" text-anchor="start" fill="#111" stroke="#111" stroke-width="0.18">tcttatctggtcagaccacagctgcttggctggtt</text>
<rect x="79.50" y="155.30" width="32.80" height="56.00" fill="none" stroke="#8a1a1a" stroke-width="1.4"/>
<rect x="141.80" y="155.30" width="32.00" height="56.00" fill="none" stroke="#8a1a1a" stroke-width="1.4"/>
<line x1="402.20" y1="22.60" x2="402.20" y2="98.00" stroke="#000" stroke-width="1.6"/>
<line x1="397.20" y1="98.00" x2="402.20" y2="98.00" stroke="#000" stroke-width="1.5"/>
<text x="390.8" y="101.5" font-family="Liberation Serif" font-size="10.2" font-weight="bold" text-anchor="end" fill="#000">0</text>
<line x1="397.20" y1="79.33" x2="402.20" y2="79.33" stroke="#000" stroke-width="1.5"/>
<text x="390.8" y="82.825" font-family="Liberation Serif" font-size="10.2" font-weight="bold" text-anchor="end" fill="#000">10</text>
<line x1="397.20" y1="60.65" x2="402.20" y2="60.65" stroke="#000" stroke-width="1.5"/>
<text x="390.8" y="64.15" font-family="Liberation Serif" font-size="10.2" font-weight="bold" text-anchor="end" fill="#000">20</text>
<line x1="397.20" y1="41.98" x2="402.20" y2="41.98" stroke="#000" stroke-width="1.5"/>
<text x="390.8" y="45.475" font-family="Liberation Serif" font-size="10.2" font-weight="bold" text-anchor="end" fill="#000">30</text>
<line x1="397.20" y1="23.30" x2="402.20" y2="23.30" stroke="#000" stroke-width="1.5"/>
<text x="390.8" y="26.799999999999997" font-family="Liberation Serif" font-size="10.2" font-weight="bold" text-anchor="end" fill="#000">40</text>
<line x1="401.40" y1="98.00" x2="487.70" y2="98.00" stroke="#000" stroke-width="1.6"/>
<text x="373" y="63.1" font-family="Liberation Sans" font-size="10" font-weight="bold" text-anchor="middle" fill="#000" transform="rotate(-90 373 63.1)">Fold enrichment</text>
<rect x="402.70" y="96.80" width="10.60" height="1.20" fill="#444" stroke="#000" stroke-width="1.9"/>
<rect x="417.10" y="43.80" width="11.00" height="54.20" fill="#8c8c8c" stroke="#000" stroke-width="1.9"/>
<line x1="422.60" y1="39.40" x2="422.60" y2="48.20" stroke="#000" stroke-width="1.7"/>
<line x1="418.86" y1="39.40" x2="426.34" y2="39.40" stroke="#000" stroke-width="1.8"/>
<line x1="417.10" y1="48.20" x2="428.10" y2="48.20" stroke="#000" stroke-width="1.8"/>
<rect x="431.50" y="70.20" width="10.60" height="27.80" fill="#8c8c8c" stroke="#000" stroke-width="1.9"/>
<line x1="436.80" y1="64.40" x2="436.80" y2="76.00" stroke="#000" stroke-width="1.7"/>
<line x1="433.20" y1="64.40" x2="440.40" y2="64.40" stroke="#000" stroke-width="1.8"/>
<line x1="431.50" y1="76.00" x2="442.10" y2="76.00" stroke="#000" stroke-width="1.8"/>
<rect x="446.00" y="96.80" width="10.50" height="1.20" fill="#444" stroke="#000" stroke-width="1.9"/>
<rect x="460.00" y="65.80" width="10.40" height="32.20" fill="#8c8c8c" stroke="#000" stroke-width="1.9"/>
<line x1="465.20" y1="60.20" x2="465.20" y2="71.40" stroke="#000" stroke-width="1.7"/>
<line x1="461.66" y1="60.20" x2="468.74" y2="60.20" stroke="#000" stroke-width="1.8"/>
<line x1="460.00" y1="71.40" x2="470.40" y2="71.40" stroke="#000" stroke-width="1.8"/>
<rect x="474.20" y="74.00" width="10.80" height="24.00" fill="#8c8c8c" stroke="#000" stroke-width="1.9"/>
<line x1="479.60" y1="65.40" x2="479.60" y2="82.70" stroke="#000" stroke-width="1.7"/>
<line x1="475.93" y1="65.40" x2="483.27" y2="65.40" stroke="#000" stroke-width="1.8"/>
<line x1="474.20" y1="82.70" x2="485.00" y2="82.70" stroke="#000" stroke-width="1.8"/>
<text x="408" y="15.8" font-family="Liberation Sans" font-size="9" font-weight="bold"><tspan font-family="Liberation Serif" font-weight="normal" font-size="11.2">&#945;</tspan><tspan font-family="Liberation Sans">RUNX1</tspan></text>
<line x1="402.30" y1="17.40" x2="445.20" y2="17.40" stroke="#000" stroke-width="1.6"/>
<text x="456.7" y="15.8" font-family="Liberation Sans" font-size="9" font-weight="bold"><tspan font-family="Liberation Serif" font-weight="normal" font-size="11.2">&#945;</tspan><tspan font-family="Liberation Sans">GATA1</tspan></text>
<line x1="451.50" y1="17.40" x2="494.20" y2="17.40" stroke="#000" stroke-width="1.6"/>
<text x="402.7" y="106.8" font-family="Liberation Sans" font-size="7.8" font-weight="bold" text-anchor="start" fill="#000" transform="rotate(45 402.7 106.8)">NIS</text>
<text x="420.0" y="107.69999999999999" font-family="Liberation Sans" font-size="7.8" font-weight="bold" text-anchor="start" fill="#000" transform="rotate(45 420.0 107.69999999999999)">CONT</text>
<text x="432.9" y="106.8" font-family="Liberation Sans" font-size="7.8" font-weight="bold" text-anchor="start" fill="#000" transform="rotate(45 432.9 106.8)">TPA</text>
<text x="446.8" y="106.5" font-family="Liberation Sans" font-size="7.8" font-weight="bold" text-anchor="start" fill="#000" transform="rotate(45 446.8 106.5)">NIS</text>
<text x="459.8" y="107.69999999999999" font-family="Liberation Sans" font-size="7.8" font-weight="bold" text-anchor="start" fill="#000" transform="rotate(45 459.8 107.69999999999999)">CONT</text>
<text x="476.2" y="106.19999999999999" font-family="Liberation Sans" font-size="7.8" font-weight="bold" text-anchor="start" fill="#000" transform="rotate(45 476.2 106.19999999999999)">TPA</text>
<line x1="400.30" y1="137.40" x2="400.30" y2="198.10" stroke="#000" stroke-width="1.6"/>
<line x1="399.50" y1="198.10" x2="505.00" y2="198.10" stroke="#000" stroke-width="1.6"/>
<line x1="400.30" y1="198.10" x2="400.30" y2="201.50" stroke="#000" stroke-width="1.3"/>
<text x="400.3" y="212" font-family="Liberation Serif" font-size="10.5" font-weight="bold" text-anchor="middle" fill="#000">0</text>
<line x1="431.40" y1="198.10" x2="431.40" y2="201.50" stroke="#000" stroke-width="1.3"/>
<text x="431.4" y="212" font-family="Liberation Serif" font-size="10.5" font-weight="bold" text-anchor="middle" fill="#000">0.5</text>
<line x1="462.70" y1="198.10" x2="462.70" y2="201.50" stroke="#000" stroke-width="1.3"/>
<text x="462.7" y="212" font-family="Liberation Serif" font-size="10.5" font-weight="bold" text-anchor="middle" fill="#000">1</text>
<line x1="494.00" y1="198.10" x2="494.00" y2="201.50" stroke="#000" stroke-width="1.3"/>
<text x="494.0" y="212" font-family="Liberation Serif" font-size="10.5" font-weight="bold" text-anchor="middle" fill="#000">1.5</text>
<text x="400.5" y="223.5" font-family="Liberation Sans" font-size="9.4" font-weight="bold" text-anchor="start" fill="#000" textLength="106.5" lengthAdjust="spacingAndGlyphs">Relative luminescence</text>
<rect x="400.30" y="141.00" width="3.20" height="9.10" fill="#111" stroke="#000" stroke-width="1.8"/>
<rect x="400.30" y="156.40" width="81.00" height="8.50" fill="#9a9cf0" stroke="#000" stroke-width="1.8"/>
<line x1="467.50" y1="160.65" x2="494.40" y2="160.65" stroke="#000" stroke-width="1.6"/>
<line x1="467.50" y1="156.40" x2="467.50" y2="164.90" stroke="#000" stroke-width="1.8"/>
<line x1="494.40" y1="157.59" x2="494.40" y2="163.71" stroke="#000" stroke-width="1.8"/>
<rect x="400.30" y="171.00" width="26.00" height="9.00" fill="#9a9cf0" stroke="#000" stroke-width="1.8"/>
<rect x="422.00" y="171.00" width="4.30" height="9.00" rx="1.2" fill="#000" stroke="#000" stroke-width="1.8"/>
<rect x="400.30" y="185.80" width="35.10" height="8.80" fill="#9a9cf0" stroke="#000" stroke-width="1.8"/>
<rect x="430.50" y="185.80" width="4.90" height="8.80" rx="1.2" fill="#000" stroke="#000" stroke-width="1.8"/>
<rect x="388.80" y="137.00" width="5.80" height="11.80" fill="#fff" stroke="#222" stroke-width="1.1"/>
<rect x="314.80" y="153.30" width="79.80" height="12.10" fill="#fff" stroke="#222" stroke-width="1.1"/>
<rect x="321.50" y="153.30" width="29.80" height="12.10" fill="#dff5df" stroke="#222" stroke-width="1.0"/>
<rect x="357.10" y="153.30" width="30.80" height="12.10" fill="#f7f2a6" stroke="#222" stroke-width="1.0"/>
<text x="336.4" y="163.21800000000002" font-family="Liberation Sans" font-size="8.8" font-weight="bold" text-anchor="middle" fill="#000">RUNX</text>
<text x="372.5" y="163.21800000000002" font-family="Liberation Sans" font-size="8.8" font-weight="bold" text-anchor="middle" fill="#000">GATA</text>
<rect x="314.80" y="169.60" width="79.80" height="12.10" fill="#fff" stroke="#222" stroke-width="1.1"/>
<rect x="321.50" y="169.60" width="29.80" height="12.10" fill="#dff5df" stroke="#222" stroke-width="1.0"/>
<rect x="357.10" y="169.60" width="30.80" height="12.10" fill="#f7f2a6" stroke="#222" stroke-width="1.0"/>
<text x="336.4" y="179.51799999999997" font-family="Liberation Sans" font-size="8.8" font-weight="bold" text-anchor="middle" fill="#000">RUNX</text>
<text x="372.5" y="179.51799999999997" font-family="Liberation Sans" font-size="8.8" font-weight="bold" text-anchor="middle" fill="#000">GATA</text>
<rect x="314.80" y="185.40" width="79.80" height="12.10" fill="#fff" stroke="#222" stroke-width="1.1"/>
<rect x="321.50" y="185.40" width="29.80" height="12.10" fill="#dff5df" stroke="#222" stroke-width="1.0"/>
<rect x="357.10" y="185.40" width="30.80" height="12.10" fill="#f7f2a6" stroke="#222" stroke-width="1.0"/>
<text x="336.4" y="195.31799999999998" font-family="Liberation Sans" font-size="8.8" font-weight="bold" text-anchor="middle" fill="#000">RUNX</text>
<text x="372.5" y="195.31799999999998" font-family="Liberation Sans" font-size="8.8" font-weight="bold" text-anchor="middle" fill="#000">GATA</text>
<path d="M326,170.6 L345.6,187 M345.6,170.6 L326,187" stroke="#e32020" stroke-width="2.9" fill="none"/>
<path d="M362,188.8 L381,204 M381,188.8 L362,204" stroke="#e32020" stroke-width="2.9" fill="none"/>
<text x="7.2" y="249.4" font-family="Liberation Sans" font-size="11" font-weight="bold" text-anchor="start" fill="#000">B</text>
<text x="26" y="250.1" font-family="Liberation Sans" font-size="10" font-weight="bold" text-anchor="start" fill="#000">Chr:42,664,000-42,752,000</text>
<rect x="26.00" y="258.50" width="239.20" height="23.00" fill="none" stroke="#7a7a7a" stroke-width="1"/>
<polygon points="26.50,280.9 26.50,280.6 27.00,280.0 27.50,280.0 28.00,280.2 28.50,280.0 29.00,280.3 29.50,280.5 30.00,280.2 30.50,279.7 31.00,279.7 31.50,279.1 32.00,280.4 32.50,279.6 33.00,280.3 33.50,280.2 34.00,280.1 34.50,280.1 35.00,279.7 35.50,279.6 36.00,279.9 36.50,280.1 37.00,279.9 37.50,279.7 38.00,279.5 38.50,280.0 39.00,279.7 39.50,279.5 40.00,280.0 40.50,279.8 41.00,280.2 41.50,279.8 42.00,280.1 42.50,280.4 43.00,280.0 43.50,280.0 44.00,280.2 44.50,280.4 45.00,280.5 45.50,280.5 46.00,280.0 46.50,280.1 47.00,280.3 47.50,279.9 48.00,278.1 48.50,274.1 49.00,272.5 49.50,275.7 50.00,279.3 50.50,280.4 51.00,280.3 51.50,279.9 52.00,279.9 52.50,280.2 53.00,279.8 53.50,280.1 54.00,279.9 54.50,280.1 55.00,279.8 55.50,279.9 56.00,280.3 56.50,280.4 57.00,280.4 57.50,280.2 58.00,280.3 58.50,280.3 59.00,279.7 59.50,279.1 60.00,278.9 60.50,279.1 61.00,279.7 61.50,280.3 62.00,280.1 62.50,280.2 63.00,279.8 63.50,279.7 64.00,280.1 64.50,279.8 65.00,278.4 65.50,279.7 66.00,280.0 66.50,280.3 67.00,280.0 67.50,279.8 68.00,279.7 68.50,279.9 69.00,279.7 69.50,279.9 70.00,279.7 70.50,279.7 71.00,279.8 71.50,280.2 72.00,279.7 72.50,279.7 73.00,279.6 73.50,279.8 74.00,279.7 74.50,279.1 75.00,278.9 75.50,279.1 76.00,279.7 76.50,279.6 77.00,280.0 77.50,280.2 78.00,280.0 78.50,279.7 79.00,279.7 79.50,279.9 80.00,279.6 80.50,279.9 81.00,280.0 81.50,280.0 82.00,279.8 82.50,279.5 83.00,280.0 83.50,280.1 84.00,280.1 84.50,280.1 85.00,279.8 85.50,279.9 86.00,280.3 86.50,280.5 87.00,280.3 87.50,279.7 88.00,278.5 88.50,280.2 89.00,280.4 89.50,280.3 90.00,280.1 90.50,279.7 91.00,280.0 91.50,279.4 92.00,280.0 92.50,280.2 93.00,280.0 93.50,279.9 94.00,280.0 94.50,279.7 95.00,279.5 95.50,280.0 96.00,279.9 96.50,277.3 97.00,273.2 97.50,270.9 98.00,273.2 98.50,277.3 99.00,279.7 99.50,280.0 100.00,279.7 100.50,279.8 101.00,280.0 101.50,279.7 102.00,280.1 102.50,280.0 103.00,278.6 103.50,280.3 104.00,280.4 104.50,280.1 105.00,280.3 105.50,280.0 106.00,279.9 106.50,279.9 107.00,280.3 107.50,280.1 108.00,279.9 108.50,279.9 109.00,279.9 109.50,280.0 110.00,279.7 110.50,279.6 111.00,279.7 111.50,280.1 112.00,280.0 112.50,280.4 113.00,280.2 113.50,279.9 114.00,279.9 114.50,280.3 115.00,280.2 115.50,279.8 116.00,279.9 116.50,280.0 117.00,279.7 117.50,280.0 118.00,279.9 118.50,275.5 119.00,259.0 119.50,259.0 120.00,259.0 120.50,275.5 121.00,279.9 121.50,280.0 122.00,280.2 122.50,280.2 123.00,280.2 123.50,280.3 124.00,280.1 124.50,280.0 125.00,279.9 125.50,280.2 126.00,279.9 126.50,280.1 127.00,279.7 127.50,279.5 128.00,280.0 128.50,279.8 129.00,280.2 129.50,280.2 130.00,280.4 130.50,279.7 131.00,279.9 131.50,279.6 132.00,279.8 132.50,279.9 133.00,280.1 133.50,279.4 134.00,280.2 134.50,280.4 135.00,280.4 135.50,279.9 136.00,280.2 136.50,279.8 137.00,279.7 137.50,279.8 138.00,280.0 138.50,280.3 139.00,279.9 139.50,280.0 140.00,280.1 140.50,280.3 141.00,280.5 141.50,280.1 142.00,279.8 142.50,279.9 143.00,280.0 143.50,279.8 144.00,278.8 144.50,274.9 145.00,272.4 145.50,274.9 146.00,278.8 146.50,279.8 147.00,280.2 147.50,279.5 148.00,280.0 148.50,280.2 149.00,280.0 149.50,279.9 150.00,279.9 150.50,279.6 151.00,279.6 151.50,278.3 152.00,279.5 152.50,279.8 153.00,280.1 153.50,280.3 154.00,279.9 154.50,279.9 155.00,279.9 155.50,278.1 156.00,276.9 156.50,278.1 157.00,279.7 157.50,279.6 158.00,275.9 158.50,270.8 159.00,270.8 159.50,275.9 160.00,279.6 160.50,280.1 161.00,279.9 161.50,280.3 162.00,280.5 162.50,280.1 163.00,279.8 163.50,280.2 164.00,279.8 164.50,279.6 165.00,279.8 165.50,280.0 166.00,279.7 166.50,279.9 167.00,279.7 167.50,280.1 168.00,280.1 168.50,280.4 169.00,279.5 169.50,278.4 170.00,277.9 170.50,278.4 171.00,279.5 171.50,279.7 172.00,280.0 172.50,279.7 173.00,279.8 173.50,280.0 174.00,280.0 174.50,279.9 175.00,280.2 175.50,279.7 176.00,279.5 176.50,279.9 177.00,279.9 177.50,279.9 178.00,280.2 178.50,280.1 179.00,280.1 179.50,277.4 180.00,271.2 180.50,264.8 181.00,264.8 181.50,271.2 182.00,277.4 182.50,279.7 183.00,279.7 183.50,280.0 184.00,279.8 184.50,279.9 185.00,279.5 185.50,278.4 186.00,277.9 186.50,278.4 187.00,279.5 187.50,280.1 188.00,280.4 188.50,280.1 189.00,280.2 189.50,280.2 190.00,280.2 190.50,280.0 191.00,279.7 191.50,279.5 192.00,278.4 192.50,277.4 193.00,278.4 193.50,279.9 194.00,280.1 194.50,280.1 195.00,280.3 195.50,280.0 196.00,279.7 196.50,280.1 197.00,279.8 197.50,280.2 198.00,280.1 198.50,279.7 199.00,279.6 199.50,279.7 200.00,280.1 200.50,279.9 201.00,280.2 201.50,280.4 202.00,280.1 202.50,280.3 203.00,280.2 203.50,280.2 204.00,279.8 204.50,279.9 205.00,279.8 205.50,279.6 206.00,279.5 206.50,279.4 207.00,279.4 207.50,279.3 208.00,279.6 208.50,279.5 209.00,279.8 209.50,279.7 210.00,279.9 210.50,280.2 211.00,280.2 211.50,280.5 212.00,280.6 212.50,280.1 213.00,280.4 213.50,280.2 214.00,280.4 214.50,280.5 215.00,280.5 215.50,280.2 216.00,280.4 216.50,280.5 217.00,280.4 217.50,280.0 218.00,280.2 218.50,279.8 219.00,279.9 219.50,279.9 220.00,280.3 220.50,280.0 221.00,280.0 221.50,280.1 222.00,280.0 222.50,280.3 223.00,280.3 223.50,280.0 224.00,280.3 224.50,280.3 225.00,279.9 225.50,279.8 226.00,280.1 226.50,280.3 227.00,280.5 227.50,280.1 228.00,280.3 228.50,280.1 229.00,280.0 229.50,279.7 230.00,279.6 230.50,279.5 231.00,279.4 231.50,279.4 232.00,279.6 232.50,280.0 233.00,280.1 233.50,280.4 234.00,280.3 234.50,280.3 235.00,280.4 235.50,280.3 236.00,279.9 236.50,280.3 237.00,280.0 237.50,280.0 238.00,280.3 238.50,280.0 239.00,279.9 239.50,280.0 240.00,280.2 240.50,280.2 241.00,280.3 241.50,280.0 242.00,279.7 242.50,279.6 243.00,279.6 243.50,280.0 244.00,279.9 244.50,280.2 245.00,279.8 245.50,280.2 246.00,280.4 246.50,280.3 247.00,279.9 247.50,279.9 248.00,279.8 248.50,279.9 249.00,279.3 249.50,279.9 250.00,279.7 250.50,279.2 251.00,280.0 251.50,280.3 252.00,280.2 252.50,279.9 253.00,278.2 253.50,275.4 254.00,275.4 254.50,278.2 255.00,279.8 255.50,279.7 256.00,280.1 256.50,279.9 257.00,280.3 257.50,280.1 258.00,280.2 258.50,280.2 259.00,280.4 259.50,280.5 260.00,280.3 260.50,280.1 261.00,279.8 261.50,279.6 262.00,280.1 262.50,280.2 263.00,280.3 263.50,279.9 264.00,279.9 264.50,280.3 264.50,280.9" fill="#2fd82f"/>
<line x1="26.00" y1="280.90" x2="265.20" y2="280.90" stroke="#0c8c0c" stroke-width="1.6"/>
<line x1="69.50" y1="258.50" x2="69.50" y2="260.70" stroke="#555" stroke-width="0.8"/>
<line x1="178.00" y1="258.50" x2="178.00" y2="260.70" stroke="#555" stroke-width="0.8"/>
<line x1="232.50" y1="258.50" x2="232.50" y2="260.70" stroke="#555" stroke-width="0.8"/>
<line x1="26.00" y1="263.10" x2="28.20" y2="263.10" stroke="#555" stroke-width="0.8"/>
<rect x="26.00" y="284.30" width="239.20" height="22.90" fill="none" stroke="#7a7a7a" stroke-width="1"/>
<polygon points="26.50,306.6 26.50,306.3 27.00,305.7 27.50,305.9 28.00,306.0 28.50,305.5 29.00,305.4 29.50,305.6 30.00,305.1 30.50,305.7 31.00,305.9 31.50,305.3 32.00,305.0 32.50,304.6 33.00,305.2 33.50,305.2 34.00,305.2 34.50,305.4 35.00,305.5 35.50,305.1 36.00,304.7 36.50,304.9 37.00,305.4 37.50,305.4 38.00,305.7 38.50,305.8 39.00,305.5 39.50,305.8 40.00,305.9 40.50,306.0 41.00,306.1 41.50,305.3 42.00,305.1 42.50,305.7 43.00,305.2 43.50,305.1 44.00,305.3 44.50,304.9 45.00,305.4 45.50,305.5 46.00,305.8 46.50,305.5 47.00,305.7 47.50,305.5 48.00,301.4 48.50,293.8 49.00,290.8 49.50,296.9 50.00,303.6 50.50,305.8 51.00,306.1 51.50,305.9 52.00,306.2 52.50,306.2 53.00,306.1 53.50,306.2 54.00,306.0 54.50,306.2 55.00,305.9 55.50,305.6 56.00,305.3 56.50,305.8 57.00,305.2 57.50,305.5 58.00,305.0 58.50,305.1 59.00,305.4 59.50,305.7 60.00,306.0 60.50,306.2 61.00,303.7 61.50,305.9 62.00,305.6 62.50,305.7 63.00,305.9 63.50,306.1 64.00,306.1 64.50,305.5 65.00,305.8 65.50,305.2 66.00,305.7 66.50,305.9 67.00,305.9 67.50,305.6 68.00,306.0 68.50,305.3 69.00,305.3 69.50,305.5 70.00,305.7 70.50,305.4 71.00,305.3 71.50,305.4 72.00,305.2 72.50,304.8 73.00,305.4 73.50,305.0 74.00,305.3 74.50,305.5 75.00,304.0 75.50,306.1 76.00,305.4 76.50,305.0 77.00,305.0 77.50,304.9 78.00,304.8 78.50,305.2 79.00,305.3 79.50,305.0 80.00,305.0 80.50,305.7 81.00,305.8 81.50,305.2 82.00,304.7 82.50,305.0 83.00,305.1 83.50,305.2 84.00,305.4 84.50,305.7 85.00,306.0 85.50,306.1 86.00,305.7 86.50,305.1 87.00,305.2 87.50,305.5 88.00,305.3 88.50,302.6 89.00,305.4 89.50,305.7 90.00,305.5 90.50,305.1 91.00,303.9 91.50,302.4 92.00,301.1 92.50,300.6 93.00,301.1 93.50,302.4 94.00,303.9 94.50,304.9 95.00,304.7 95.50,304.7 96.00,304.9 96.50,300.8 97.00,294.2 97.50,290.6 98.00,294.2 98.50,300.8 99.00,303.4 99.50,303.2 100.00,303.1 100.50,303.2 101.00,303.4 101.50,303.7 102.00,304.1 102.50,304.5 103.00,304.9 103.50,304.5 104.00,304.1 104.50,303.7 105.00,303.4 105.50,303.2 106.00,303.1 106.50,303.2 107.00,303.4 107.50,303.7 108.00,304.1 108.50,304.5 109.00,304.2 109.50,303.1 110.00,302.6 110.50,303.1 111.00,304.2 111.50,304.9 112.00,305.5 112.50,305.4 113.00,305.1 113.50,304.9 114.00,305.2 114.50,305.4 115.00,305.3 115.50,305.5 116.00,305.9 116.50,306.0 117.00,305.2 117.50,304.9 118.00,305.3 118.50,300.9 119.00,286.8 119.50,284.8 120.00,286.8 120.50,300.9 121.00,305.9 121.50,303.6 122.00,298.1 122.50,294.6 123.00,298.1 123.50,303.6 124.00,305.0 124.50,305.5 125.00,305.4 125.50,304.9 126.00,304.8 126.50,304.3 127.00,304.0 127.50,303.1 128.00,303.6 128.50,303.7 129.00,304.0 129.50,304.3 130.00,304.8 130.50,305.1 131.00,305.0 131.50,304.7 132.00,304.8 132.50,304.0 133.00,303.6 133.50,304.0 134.00,304.8 134.50,305.0 135.00,304.8 135.50,304.9 136.00,305.2 136.50,305.0 137.00,303.4 137.50,305.3 138.00,305.2 138.50,304.8 139.00,304.5 139.50,304.4 140.00,304.8 140.50,305.0 141.00,305.6 141.50,305.3 142.00,305.7 142.50,305.1 143.00,303.1 143.50,302.6 144.00,298.1 144.50,295.6 145.00,298.1 145.50,302.6 146.00,305.0 146.50,305.1 147.00,305.4 147.50,305.8 148.00,306.0 148.50,306.1 149.00,304.6 149.50,305.6 150.00,305.3 150.50,305.7 151.00,305.4 151.50,305.7 152.00,305.5 152.50,305.2 153.00,305.7 153.50,305.5 154.00,304.3 154.50,302.5 155.00,301.6 155.50,302.5 156.00,304.3 156.50,305.4 157.00,305.4 157.50,305.0 158.00,302.1 158.50,299.1 159.00,299.1 159.50,302.1 160.00,305.0 160.50,305.7 161.00,305.6 161.50,305.1 162.00,305.3 162.50,305.1 163.00,305.5 163.50,305.0 164.00,304.9 164.50,304.8 165.00,305.2 165.50,305.4 166.00,305.1 166.50,304.8 167.00,304.5 167.50,304.8 168.00,304.9 168.50,305.3 169.00,305.4 169.50,305.7 170.00,305.6 170.50,305.7 171.00,305.6 171.50,305.5 172.00,305.3 172.50,305.7 173.00,302.9 173.50,304.6 174.00,301.3 174.50,297.1 175.00,295.1 175.50,297.1 176.00,301.3 176.50,304.6 177.00,305.2 177.50,304.9 178.00,305.4 178.50,304.8 179.00,302.0 179.50,298.4 180.00,296.6 180.50,298.4 181.00,302.0 181.50,304.9 182.00,304.9 182.50,305.5 183.00,305.5 183.50,305.3 184.00,305.4 184.50,305.0 185.00,304.7 185.50,305.2 186.00,305.6 186.50,305.3 187.00,305.6 187.50,305.9 188.00,305.2 188.50,305.3 189.00,305.4 189.50,305.7 190.00,305.4 190.50,305.8 191.00,305.2 191.50,304.9 192.00,304.9 192.50,305.0 193.00,305.1 193.50,305.6 194.00,305.1 194.50,304.8 195.00,305.4 195.50,305.6 196.00,304.8 196.50,303.8 197.00,302.9 197.50,302.6 198.00,302.9 198.50,303.8 199.00,304.8 199.50,305.4 200.00,305.0 200.50,305.4 201.00,305.8 201.50,305.9 202.00,305.2 202.50,305.5 203.00,305.9 203.50,305.6 204.00,305.6 204.50,306.0 205.00,306.1 205.50,306.2 206.00,306.3 206.50,306.3 207.00,305.6 207.50,305.0 208.00,305.1 208.50,305.6 209.00,305.4 209.50,305.0 210.00,305.4 210.50,305.3 211.00,304.9 211.50,304.9 212.00,304.6 212.50,303.8 213.00,303.1 213.50,302.7 214.00,302.7 214.50,303.1 215.00,303.8 215.50,304.6 216.00,305.3 216.50,305.2 217.00,305.0 217.50,305.2 218.00,304.8 218.50,304.3 219.00,304.0 219.50,303.7 220.00,303.6 220.50,303.7 221.00,304.0 221.50,304.3 222.00,304.8 222.50,303.9 223.00,304.4 223.50,304.5 224.00,304.8 224.50,304.3 225.00,304.0 225.50,303.7 226.00,303.6 226.50,303.7 227.00,304.0 227.50,304.3 228.00,304.8 228.50,305.2 229.00,305.6 229.50,305.9 230.00,305.5 230.50,305.7 231.00,305.7 231.50,303.6 232.00,306.0 232.50,305.6 233.00,305.5 233.50,305.9 234.00,305.4 234.50,305.0 235.00,304.9 235.50,304.6 236.00,302.9 236.50,305.0 237.00,305.4 237.50,305.5 238.00,305.5 238.50,305.8 239.00,305.1 239.50,305.5 240.00,305.8 240.50,305.1 241.00,305.6 241.50,305.4 242.00,304.9 242.50,305.2 243.00,305.1 243.50,304.7 244.00,304.4 244.50,304.2 245.00,304.1 245.50,304.2 246.00,304.4 246.50,304.7 247.00,304.8 247.50,305.1 248.00,304.8 248.50,305.0 249.00,304.7 249.50,305.2 250.00,305.0 250.50,305.2 251.00,305.4 251.50,305.1 252.00,304.8 252.50,304.5 253.00,304.2 253.50,304.0 254.00,303.8 254.50,303.6 255.00,303.6 255.50,303.6 256.00,303.8 256.50,304.0 257.00,304.2 257.50,304.5 258.00,304.8 258.50,304.6 259.00,304.4 259.50,304.7 260.00,304.5 260.50,305.3 261.00,305.3 261.50,305.4 262.00,305.8 262.50,305.9 263.00,305.2 263.50,305.4 264.00,305.8 264.50,305.9 264.50,306.6" fill="#1414dc"/>
<line x1="26.00" y1="306.60" x2="265.20" y2="306.60" stroke="#10108a" stroke-width="1.6"/>
<line x1="69.50" y1="284.30" x2="69.50" y2="286.50" stroke="#555" stroke-width="0.8"/>
<line x1="178.00" y1="284.30" x2="178.00" y2="286.50" stroke="#555" stroke-width="0.8"/>
<line x1="232.50" y1="284.30" x2="232.50" y2="286.50" stroke="#555" stroke-width="0.8"/>
<line x1="26.00" y1="288.90" x2="28.20" y2="288.90" stroke="#555" stroke-width="0.8"/>
<rect x="26.00" y="310.00" width="239.20" height="22.70" fill="none" stroke="#7a7a7a" stroke-width="1"/>
<polygon points="26.50,332.1 26.50,330.3 27.00,331.6 27.50,331.8 28.00,331.5 28.50,331.1 29.00,331.3 29.50,331.4 30.00,331.6 30.50,331.2 31.00,331.4 31.50,331.4 32.00,331.4 32.50,331.6 33.00,331.6 33.50,331.2 34.00,331.3 34.50,331.0 35.00,330.6 35.50,331.2 36.00,331.1 36.50,331.3 37.00,331.1 37.50,331.4 38.00,331.4 38.50,331.3 39.00,331.3 39.50,330.3 40.00,329.6 40.50,330.3 41.00,330.9 41.50,331.1 42.00,330.9 42.50,331.1 43.00,331.2 43.50,331.0 44.00,331.0 44.50,331.4 45.00,331.1 45.50,331.2 46.00,330.9 46.50,331.3 47.00,331.3 47.50,331.1 48.00,331.1 48.50,330.9 49.00,331.3 49.50,331.4 50.00,331.2 50.50,331.4 51.00,331.2 51.50,329.9 52.00,331.2 52.50,331.2 53.00,331.4 53.50,331.5 54.00,331.3 54.50,331.4 55.00,331.2 55.50,331.5 56.00,331.2 56.50,331.5 57.00,331.4 57.50,331.1 58.00,331.4 58.50,331.2 59.00,331.3 59.50,331.3 60.00,331.6 60.50,331.7 61.00,331.3 61.50,331.3 62.00,331.1 62.50,331.4 63.00,331.3 63.50,331.3 64.00,331.5 64.50,331.3 65.00,331.0 65.50,331.0 66.00,331.3 66.50,331.4 67.00,331.7 67.50,331.4 68.00,331.6 68.50,331.7 69.00,331.3 69.50,331.3 70.00,331.5 70.50,331.2 71.00,331.3 71.50,331.0 72.00,331.1 72.50,331.2 73.00,331.3 73.50,331.3 74.00,331.0 74.50,331.3 75.00,331.6 75.50,331.2 76.00,331.1 76.50,331.1 77.00,331.5 77.50,331.4 78.00,331.5 78.50,331.5 79.00,331.2 79.50,331.0 80.00,331.1 80.50,331.1 81.00,331.4 81.50,331.2 82.00,331.1 82.50,331.1 83.00,330.9 83.50,331.3 84.00,331.0 84.50,330.9 85.00,331.2 85.50,331.0 86.00,331.0 86.50,331.3 87.00,331.0 87.50,330.9 88.00,331.1 88.50,331.0 89.00,331.1 89.50,331.3 90.00,331.0 90.50,331.3 91.00,331.0 91.50,331.0 92.00,331.4 92.50,331.2 93.00,331.2 93.50,331.1 94.00,331.3 94.50,331.5 95.00,331.6 95.50,331.1 96.00,329.1 96.50,325.6 97.00,321.8 97.50,320.1 98.00,321.8 98.50,325.6 99.00,329.1 99.50,331.1 100.00,331.2 100.50,331.2 101.00,331.3 101.50,331.0 102.00,331.5 102.50,331.1 103.00,331.1 103.50,331.5 104.00,331.4 104.50,331.3 105.00,331.4 105.50,331.2 106.00,331.4 106.50,331.2 107.00,331.4 107.50,331.1 108.00,330.9 108.50,331.0 109.00,331.1 109.50,331.2 110.00,331.1 110.50,331.3 111.00,331.1 111.50,330.9 112.00,330.8 112.50,331.0 113.00,330.9 113.50,330.8 114.00,331.1 114.50,331.0 115.00,331.4 115.50,331.6 116.00,331.6 116.50,331.3 117.00,331.2 117.50,331.3 118.00,331.2 118.50,331.1 119.00,331.4 119.50,331.1 120.00,331.2 120.50,331.5 121.00,331.5 121.50,331.4 122.00,331.6 122.50,331.4 123.00,331.0 123.50,331.2 124.00,331.4 124.50,331.1 125.00,331.1 125.50,331.2 126.00,331.2 126.50,331.4 127.00,331.3 127.50,331.2 128.00,331.1 128.50,331.3 129.00,331.4 129.50,331.5 130.00,331.7 130.50,331.7 131.00,331.7 131.50,331.4 132.00,331.4 132.50,331.7 133.00,331.4 133.50,331.6 134.00,331.2 134.50,331.3 135.00,331.2 135.50,331.2 136.00,331.1 136.50,330.9 137.00,331.4 137.50,331.5 138.00,331.5 138.50,331.3 139.00,331.6 139.50,331.6 140.00,331.5 140.50,331.4 141.00,331.1 141.50,331.2 142.00,331.0 142.50,331.1 143.00,331.5 143.50,331.7 144.00,331.8 144.50,331.6 145.00,331.3 145.50,331.6 146.00,331.3 146.50,331.6 147.00,331.4 147.50,331.1 148.00,331.0 148.50,330.8 149.00,330.7 149.50,331.0 150.00,330.8 150.50,330.6 151.00,331.1 151.50,331.1 152.00,330.9 152.50,331.3 153.00,331.1 153.50,331.0 154.00,330.9 154.50,331.4 155.00,331.0 155.50,331.0 156.00,331.3 156.50,331.2 157.00,331.0 157.50,331.1 158.00,331.3 158.50,331.3 159.00,331.2 159.50,331.3 160.00,331.1 160.50,330.9 161.00,330.9 161.50,330.8 162.00,330.9 162.50,331.0 163.00,331.0 163.50,331.3 164.00,331.5 164.50,331.5 165.00,331.2 165.50,331.3 166.00,331.4 166.50,331.3 167.00,331.3 167.50,331.5 168.00,331.5 168.50,331.6 169.00,331.8 169.50,331.6 170.00,331.7 170.50,331.3 171.00,330.6 171.50,329.9 172.00,329.6 172.50,329.9 173.00,330.6 173.50,331.3 174.00,331.5 174.50,331.5 175.00,331.2 175.50,331.1 176.00,331.1 176.50,331.3 177.00,331.0 177.50,330.9 178.00,330.9 178.50,329.5 179.00,331.2 179.50,330.9 180.00,331.3 180.50,331.5 181.00,331.2 181.50,331.4 182.00,331.6 182.50,331.8 183.00,330.6 183.50,331.1 184.00,331.0 184.50,331.4 185.00,331.4 185.50,331.2 186.00,331.4 186.50,331.5 187.00,330.7 187.50,331.4 188.00,331.6 188.50,331.1 189.00,330.3 189.50,329.5 190.00,329.1 190.50,329.5 191.00,330.3 191.50,331.1 192.00,331.2 192.50,331.2 193.00,331.3 193.50,331.1 194.00,331.5 194.50,331.4 195.00,331.6 195.50,331.5 196.00,331.1 196.50,331.2 197.00,331.5 197.50,331.4 198.00,331.5 198.50,331.2 199.00,331.0 199.50,331.4 200.00,331.3 200.50,330.5 201.00,331.2 201.50,331.1 202.00,331.4 202.50,331.1 203.00,331.1 203.50,331.5 204.00,331.6 204.50,331.4 205.00,331.6 205.50,331.7 206.00,331.6 206.50,331.7 207.00,331.6 207.50,331.7 208.00,331.7 208.50,330.2 209.00,329.8 209.50,331.4 210.00,331.4 210.50,331.4 211.00,331.4 211.50,331.4 212.00,331.6 212.50,331.4 213.00,331.4 213.50,331.4 214.00,331.3 214.50,331.0 215.00,331.0 215.50,331.1 216.00,331.1 216.50,331.0 217.00,331.0 217.50,331.1 218.00,331.3 218.50,331.3 219.00,331.6 219.50,331.6 220.00,331.2 220.50,331.1 221.00,331.1 221.50,331.2 222.00,331.4 222.50,331.2 223.00,331.4 223.50,331.2 224.00,330.9 224.50,331.1 225.00,331.0 225.50,330.9 226.00,330.9 226.50,331.2 227.00,331.1 227.50,331.3 228.00,331.2 228.50,331.3 229.00,331.1 229.50,331.1 230.00,330.9 230.50,330.9 231.00,330.8 231.50,331.0 232.00,331.1 232.50,331.4 233.00,331.3 233.50,331.1 234.00,331.0 234.50,331.2 235.00,330.9 235.50,330.3 236.00,330.1 236.50,330.3 237.00,330.9 237.50,331.5 238.00,331.6 238.50,331.7 239.00,331.8 239.50,331.8 240.00,331.6 240.50,331.4 241.00,331.4 241.50,331.4 242.00,331.2 242.50,331.4 243.00,331.3 243.50,331.3 244.00,331.3 244.50,331.3 245.00,331.3 245.50,331.0 246.00,331.2 246.50,331.4 247.00,331.7 247.50,331.4 248.00,331.2 248.50,331.3 249.00,330.9 249.50,330.3 250.00,330.1 250.50,330.3 251.00,330.9 251.50,331.1 252.00,331.2 252.50,331.5 253.00,331.3 253.50,331.0 254.00,331.4 254.50,331.5 255.00,331.2 255.50,331.4 256.00,331.4 256.50,331.6 257.00,331.6 257.50,331.6 258.00,331.5 258.50,331.7 259.00,331.8 259.50,331.8 260.00,331.6 260.50,331.6 261.00,331.7 261.50,331.7 262.00,331.4 262.50,331.4 263.00,331.4 263.50,331.1 264.00,331.2 264.50,331.1 264.50,332.1" fill="#2fd82f"/>
<line x1="26.00" y1="332.10" x2="265.20" y2="332.10" stroke="#0c8c0c" stroke-width="1.6"/>
<line x1="69.50" y1="310.00" x2="69.50" y2="312.20" stroke="#555" stroke-width="0.8"/>
<line x1="178.00" y1="310.00" x2="178.00" y2="312.20" stroke="#555" stroke-width="0.8"/>
<line x1="232.50" y1="310.00" x2="232.50" y2="312.20" stroke="#555" stroke-width="0.8"/>
<rect x="26.00" y="335.40" width="239.20" height="23.10" fill="none" stroke="#7a7a7a" stroke-width="1"/>
<polygon points="26.50,357.9 26.50,357.5 27.00,357.0 27.50,356.8 28.00,356.8 28.50,357.2 29.00,356.9 29.50,357.0 30.00,356.7 30.50,356.9 31.00,357.3 31.50,356.9 32.00,356.8 32.50,356.5 33.00,356.7 33.50,356.7 34.00,357.1 34.50,357.1 35.00,357.3 35.50,357.0 36.00,357.3 36.50,357.5 37.00,357.4 37.50,357.3 38.00,356.9 38.50,356.9 39.00,356.9 39.50,357.1 40.00,357.3 40.50,357.1 41.00,357.4 41.50,356.9 42.00,357.1 42.50,357.0 43.00,357.3 43.50,357.3 44.00,357.4 44.50,357.0 45.00,357.3 45.50,355.9 46.00,356.8 46.50,356.7 47.00,356.8 47.50,357.0 48.00,353.3 48.50,346.5 49.00,343.8 49.50,349.3 50.00,355.2 50.50,357.4 51.00,357.0 51.50,357.1 52.00,357.3 52.50,357.4 53.00,357.4 53.50,357.4 54.00,357.2 54.50,357.2 55.00,357.1 55.50,356.7 56.00,357.0 56.50,357.2 57.00,357.5 57.50,357.2 58.00,356.9 58.50,356.9 59.00,356.9 59.50,357.0 60.00,356.8 60.50,357.0 61.00,357.0 61.50,357.2 62.00,357.0 62.50,357.0 63.00,357.0 63.50,356.6 64.00,356.7 64.50,356.8 65.00,357.1 65.50,357.0 66.00,357.4 66.50,356.9 67.00,356.6 67.50,356.5 68.00,357.0 68.50,356.8 69.00,356.8 69.50,356.7 70.00,357.1 70.50,357.3 71.00,357.3 71.50,357.2 72.00,356.8 72.50,357.2 73.00,357.2 73.50,355.6 74.00,357.1 74.50,357.2 75.00,357.3 75.50,357.3 76.00,357.4 76.50,357.4 77.00,357.3 77.50,356.8 78.00,357.2 78.50,357.1 79.00,357.2 79.50,356.9 80.00,356.9 80.50,356.9 81.00,356.7 81.50,356.5 82.00,356.6 82.50,356.6 83.00,356.8 83.50,356.7 84.00,356.6 84.50,357.0 85.00,357.0 85.50,357.1 86.00,356.8 86.50,357.1 87.00,357.4 87.50,357.0 88.00,356.7 88.50,357.0 89.00,356.7 89.50,357.1 90.00,356.8 90.50,356.8 91.00,356.7 91.50,357.0 92.00,356.5 92.50,355.4 93.00,354.9 93.50,355.4 94.00,356.5 94.50,357.4 95.00,357.4 95.50,357.4 96.00,357.0 96.50,352.2 97.00,338.1 97.50,335.9 98.00,338.1 98.50,352.2 99.00,357.2 99.50,357.0 100.00,357.0 100.50,356.9 101.00,356.7 101.50,357.0 102.00,357.0 102.50,356.9 103.00,356.6 103.50,356.5 104.00,356.4 104.50,355.7 105.00,355.4 105.50,355.7 106.00,356.4 106.50,357.1 107.00,357.3 107.50,357.3 108.00,357.4 108.50,357.3 109.00,357.1 109.50,357.4 110.00,357.2 110.50,357.0 111.00,356.9 111.50,356.6 112.00,357.1 112.50,357.0 113.00,356.8 113.50,355.1 114.00,357.0 114.50,357.3 115.00,357.1 115.50,357.4 116.00,357.5 116.50,357.6 117.00,357.1 117.50,356.8 118.00,356.5 118.50,354.9 119.00,349.4 119.50,345.9 120.00,349.4 120.50,354.9 121.00,357.1 121.50,354.9 122.00,349.4 122.50,345.9 123.00,349.4 123.50,354.9 124.00,356.9 124.50,357.2 125.00,357.5 125.50,357.0 126.00,357.2 126.50,357.2 127.00,356.9 127.50,357.2 128.00,357.2 128.50,357.3 129.00,357.2 129.50,357.4 130.00,357.0 130.50,356.9 131.00,356.7 131.50,357.1 132.00,357.0 132.50,357.1 133.00,357.0 133.50,357.2 134.00,357.3 134.50,357.0 135.00,357.3 135.50,355.7 136.00,356.6 136.50,356.7 137.00,356.7 137.50,356.6 138.00,356.6 138.50,356.6 139.00,356.4 139.50,357.0 140.00,357.0 140.50,356.7 141.00,356.9 141.50,357.0 142.00,357.2 142.50,357.1 143.00,357.2 143.50,354.3 144.00,347.8 144.50,343.6 145.00,347.8 145.50,354.3 146.00,357.0 146.50,357.1 147.00,357.4 147.50,357.4 148.00,357.2 148.50,357.5 149.00,357.6 149.50,357.5 150.00,357.5 150.50,357.3 151.00,357.5 151.50,357.6 152.00,357.3 152.50,357.3 153.00,357.1 153.50,357.4 154.00,357.1 154.50,354.2 155.00,347.3 155.50,342.9 156.00,347.3 156.50,354.2 157.00,357.0 157.50,357.0 158.00,356.9 158.50,356.8 159.00,356.8 159.50,356.6 160.00,356.7 160.50,356.7 161.00,356.6 161.50,355.1 162.00,356.8 162.50,357.0 163.00,357.2 163.50,356.9 164.00,356.9 164.50,357.1 165.00,357.1 165.50,356.7 166.00,356.6 166.50,356.6 167.00,356.4 167.50,356.7 168.00,356.7 168.50,356.8 169.00,357.0 169.50,357.1 170.00,357.2 170.50,356.9 171.00,357.0 171.50,357.3 172.00,357.3 172.50,357.5 173.00,357.6 173.50,357.1 174.00,355.2 174.50,352.1 175.00,350.4 175.50,352.1 176.00,355.2 176.50,356.6 177.00,356.5 177.50,356.5 178.00,356.6 178.50,357.0 179.00,356.9 179.50,357.3 180.00,357.1 180.50,356.9 181.00,356.9 181.50,357.0 182.00,357.1 182.50,356.9 183.00,357.1 183.50,356.8 184.00,356.3 184.50,357.2 185.00,356.9 185.50,356.6 186.00,356.7 186.50,356.8 187.00,357.1 187.50,357.0 188.00,354.2 188.50,350.6 189.00,350.6 189.50,354.2 190.00,357.0 190.50,355.4 191.00,356.7 191.50,356.7 192.00,357.1 192.50,357.1 193.00,357.4 193.50,357.5 194.00,357.0 194.50,357.1 195.00,357.0 195.50,356.9 196.00,356.8 196.50,357.0 197.00,357.2 197.50,357.4 198.00,356.9 198.50,356.9 199.00,357.3 199.50,357.3 200.00,356.9 200.50,357.0 201.00,357.0 201.50,357.2 202.00,357.2 202.50,357.3 203.00,357.2 203.50,357.3 204.00,357.4 204.50,357.4 205.00,356.9 205.50,357.0 206.00,356.9 206.50,357.3 207.00,357.1 207.50,357.3 208.00,356.9 208.50,357.1 209.00,356.9 209.50,357.2 210.00,357.3 210.50,356.8 211.00,356.6 211.50,356.9 212.00,357.1 212.50,357.0 213.00,356.7 213.50,356.9 214.00,357.1 214.50,357.2 215.00,357.2 215.50,356.9 216.00,356.6 216.50,356.9 217.00,356.8 217.50,356.8 218.00,356.3 218.50,357.0 219.00,356.7 219.50,356.9 220.00,357.3 220.50,357.0 221.00,356.8 221.50,357.0 222.00,355.7 222.50,357.5 223.00,357.2 223.50,357.0 224.00,357.1 224.50,357.3 225.00,357.0 225.50,357.0 226.00,357.1 226.50,357.2 227.00,357.1 227.50,356.8 228.00,357.1 228.50,357.2 229.00,357.2 229.50,357.2 230.00,356.9 230.50,357.2 231.00,357.0 231.50,357.3 232.00,357.0 232.50,357.4 233.00,357.0 233.50,356.8 234.00,357.0 234.50,357.1 235.00,357.2 235.50,357.3 236.00,357.1 236.50,356.9 237.00,356.7 237.50,356.5 238.00,356.4 238.50,356.5 239.00,357.0 239.50,357.0 240.00,357.0 240.50,357.2 241.00,357.3 241.50,357.3 242.00,356.9 242.50,357.2 243.00,357.1 243.50,357.2 244.00,356.8 244.50,355.2 245.00,356.5 245.50,356.5 246.00,356.9 246.50,357.1 247.00,357.2 247.50,356.8 248.00,356.6 248.50,356.6 249.00,356.9 249.50,356.6 250.00,357.0 250.50,356.9 251.00,357.0 251.50,357.0 252.00,357.0 252.50,356.8 253.00,357.2 253.50,357.1 254.00,356.8 254.50,356.8 255.00,356.8 255.50,356.9 256.00,357.1 256.50,356.9 257.00,357.1 257.50,356.8 258.00,356.6 258.50,356.7 259.00,357.1 259.50,357.2 260.00,357.3 260.50,357.3 261.00,356.9 261.50,357.1 262.00,357.0 262.50,357.1 263.00,356.7 263.50,356.8 264.00,356.9 264.50,357.3 264.50,357.9" fill="#1414dc"/>
<line x1="26.00" y1="357.90" x2="265.20" y2="357.90" stroke="#10108a" stroke-width="1.6"/>
<line x1="69.50" y1="335.40" x2="69.50" y2="337.60" stroke="#555" stroke-width="0.8"/>
<line x1="178.00" y1="335.40" x2="178.00" y2="337.60" stroke="#555" stroke-width="0.8"/>
<line x1="232.50" y1="335.40" x2="232.50" y2="337.60" stroke="#555" stroke-width="0.8"/>
<text x="25.4" y="265.7" font-family="Liberation Sans" font-size="8.2" font-weight="bold" text-anchor="end" fill="#000">50</text>
<text x="24.0" y="282.09999999999997" font-family="Liberation Sans" font-size="8.2" font-weight="bold" text-anchor="end" fill="#000">0</text>
<text x="24.8" y="291.7" font-family="Liberation Sans" font-size="8.2" font-weight="bold" text-anchor="end" fill="#000">50</text>
<text x="24.0" y="307.7" font-family="Liberation Sans" font-size="8.2" font-weight="bold" text-anchor="end" fill="#000">0</text>
<text x="24.8" y="316.90000000000003" font-family="Liberation Sans" font-size="8.2" font-weight="bold" text-anchor="end" fill="#000">30</text>
<text x="24.0" y="333.2" font-family="Liberation Sans" font-size="8.2" font-weight="bold" text-anchor="end" fill="#000">0</text>
<text x="24.8" y="342.7" font-family="Liberation Sans" font-size="8.2" font-weight="bold" text-anchor="end" fill="#000">35</text>
<text x="24.0" y="358.9" font-family="Liberation Sans" font-size="8.2" font-weight="bold" text-anchor="end" fill="#000">0</text>
<text x="267.2" y="281.5" font-family="Liberation Sans" font-size="10" font-weight="bold" text-anchor="middle" fill="#000" transform="rotate(90 267.2 281.5)">FOS</text>
<text x="267.1" y="335.4" font-family="Liberation Sans" font-size="10" font-weight="bold" text-anchor="middle" fill="#000" transform="rotate(90 267.1 335.4)">RUNX1</text>
<rect x="86.30" y="255.00" width="22.40" height="108.20" fill="none" stroke="#8a1a1a" stroke-width="1.6"/>
<text x="53.5" y="376.6" font-family="Liberation Sans" font-size="10" font-weight="bold" text-anchor="start" fill="#000">ITGB3</text>
<line x1="86.60" y1="372.70" x2="240.00" y2="372.70" stroke="#000" stroke-width="0.8"/>
<path d="M87.5,371.2L89.5,372.7L87.5,374.2ZM90.6,371.2L92.6,372.7L90.6,374.2ZM93.7,371.2L95.7,372.7L93.7,374.2ZM96.8,371.2L98.8,372.7L96.8,374.2ZM99.9,371.2L101.9,372.7L99.9,374.2ZM103.0,371.2L105.0,372.7L103.0,374.2ZM106.1,371.2L108.1,372.7L106.1,374.2ZM109.2,371.2L111.2,372.7L109.2,374.2ZM112.3,371.2L114.3,372.7L112.3,374.2ZM115.4,371.2L117.4,372.7L115.4,374.2ZM118.5,371.2L120.5,372.7L118.5,374.2ZM121.6,371.2L123.6,372.7L121.6,374.2ZM124.7,371.2L126.7,372.7L124.7,374.2ZM127.8,371.2L129.8,372.7L127.8,374.2ZM130.9,371.2L132.9,372.7L130.9,374.2ZM134.0,371.2L136.0,372.7L134.0,374.2ZM137.1,371.2L139.1,372.7L137.1,374.2ZM140.2,371.2L142.2,372.7L140.2,374.2ZM143.3,371.2L145.3,372.7L143.3,374.2ZM146.4,371.2L148.4,372.7L146.4,374.2ZM149.5,371.2L151.5,372.7L149.5,374.2ZM152.6,371.2L154.6,372.7L152.6,374.2ZM155.7,371.2L157.7,372.7L155.7,374.2ZM158.8,371.2L160.8,372.7L158.8,374.2ZM161.9,371.2L163.9,372.7L161.9,374.2ZM165.0,371.2L167.0,372.7L165.0,374.2ZM168.1,371.2L170.1,372.7L168.1,374.2ZM171.2,371.2L173.2,372.7L171.2,374.2ZM174.3,371.2L176.3,372.7L174.3,374.2ZM177.4,371.2L179.4,372.7L177.4,374.2ZM180.5,371.2L182.5,372.7L180.5,374.2ZM183.6,371.2L185.6,372.7L183.6,374.2ZM186.7,371.2L188.7,372.7L186.7,374.2ZM189.8,371.2L191.8,372.7L189.8,374.2ZM192.9,371.2L194.9,372.7L192.9,374.2ZM196.0,371.2L198.0,372.7L196.0,374.2ZM199.1,371.2L201.1,372.7L199.1,374.2ZM202.2,371.2L204.2,372.7L202.2,374.2ZM205.3,371.2L207.3,372.7L205.3,374.2ZM208.4,371.2L210.4,372.7L208.4,374.2ZM211.5,371.2L213.5,372.7L211.5,374.2ZM214.6,371.2L216.6,372.7L214.6,374.2ZM217.7,371.2L219.7,372.7L217.7,374.2ZM220.8,371.2L222.8,372.7L220.8,374.2ZM223.9,371.2L225.9,372.7L223.9,374.2ZM227.0,371.2L229.0,372.7L227.0,374.2ZM230.1,371.2L232.1,372.7L230.1,374.2ZM233.2,371.2L235.2,372.7L233.2,374.2ZM236.3,371.2L238.3,372.7L236.3,374.2Z" fill="#000" fill-opacity="0.85"/>
<rect x="240.00" y="370.40" width="5.80" height="4.60" fill="#000" stroke="none" stroke-width="1"/>
<line x1="167.30" y1="370.20" x2="167.30" y2="375.20" stroke="#000" stroke-width="0.8"/>
<line x1="169.60" y1="370.20" x2="169.60" y2="375.20" stroke="#000" stroke-width="0.8"/>
<line x1="175.40" y1="370.20" x2="175.40" y2="375.20" stroke="#000" stroke-width="0.8"/>
<line x1="184.60" y1="370.20" x2="184.60" y2="375.20" stroke="#000" stroke-width="0.8"/>
<line x1="187.00" y1="370.20" x2="187.00" y2="375.20" stroke="#000" stroke-width="0.8"/>
<line x1="191.00" y1="369.70" x2="191.00" y2="375.70" stroke="#000" stroke-width="0.8"/>
<line x1="211.00" y1="370.70" x2="211.00" y2="374.70" stroke="#000" stroke-width="0.8"/>
<line x1="226.00" y1="371.20" x2="226.00" y2="374.20" stroke="#000" stroke-width="0.8"/>
<rect x="26.80" y="391.30" width="238.80" height="58.00" fill="#fff" stroke="#000" stroke-width="1.6"/>
<text x="33.8" y="402.3" font-family="Liberation Mono" font-size="8.1" font-weight="bold" text-anchor="start" fill="#111" stroke="#111" stroke-width="0.18">Human</text>
<text x="71.3" y="402.3" font-family="Liberation Mono" font-size="8.1" font-weight="bold" text-anchor="start" fill="#111" stroke="#111" stroke-width="0.18">ccacaggaaccacaactcatgaatcagaagacagata</text>
<text x="33.8" y="412.0" font-family="Liberation Mono" font-size="8.1" font-weight="bold" text-anchor="start" fill="#111" stroke="#111" stroke-width="0.18">Mouse</text>
<text x="71.3" y="412.0" font-family="Liberation Mono" font-size="8.1" font-weight="bold" text-anchor="start" fill="#111" stroke="#111" stroke-width="0.18">ccacaggaaccgcaagtcatgaatcagcagacagata</text>
<text x="33.8" y="421.7" font-family="Liberation Mono" font-size="8.1" font-weight="bold" text-anchor="start" fill="#111" stroke="#111" stroke-width="0.18">Dog</text>
<text x="71.3" y="421.7" font-family="Liberation Mono" font-size="8.1" font-weight="bold" text-anchor="start" fill="#111" stroke="#111" stroke-width="0.18">ccacaggaaccacaactcatgaatcagcagacagata</text>
<text x="33.8" y="431.40000000000003" font-family="Liberation Mono" font-size="8.1" font-weight="bold" text-anchor="start" fill="#111" stroke="#111" stroke-width="0.18">Horse</text>
<text x="71.3" y="431.40000000000003" font-family="Liberation Mono" font-size="8.1" font-weight="bold" text-anchor="start" fill="#111" stroke="#111" stroke-width="0.18">ccacaagaaccacaactcatgaatcagcagacagata</text>
<text x="33.8" y="441.1" font-family="Liberation Mono" font-size="8.1" font-weight="bold" text-anchor="start" fill="#111" stroke="#111" stroke-width="0.18">Opossum</text>
<text x="71.3" y="441.1" font-family="Liberation Mono" font-size="8.1" font-weight="bold" text-anchor="start" fill="#111" stroke="#111" stroke-width="0.18">ccacaagaaccacagctcatgaatcagcagacagata</text>
<rect x="107.30" y="392.70" width="39.40" height="54.90" fill="none" stroke="#8a1a1a" stroke-width="1.4"/>
<rect x="153.50" y="392.70" width="49.20" height="54.90" fill="none" stroke="#8a1a1a" stroke-width="1.4"/>
<line x1="390.00" y1="258.20" x2="390.00" y2="309.60" stroke="#000" stroke-width="1.6"/>
<line x1="390.00" y1="318.00" x2="390.00" y2="357.30" stroke="#000" stroke-width="1.6"/>
<line x1="385.50" y1="268.80" x2="390.00" y2="268.80" stroke="#000" stroke-width="1.5"/>
<text x="380.6" y="272.3" font-family="Liberation Serif" font-size="10.2" font-weight="bold" text-anchor="end" fill="#000">70</text>
<line x1="385.50" y1="284.30" x2="390.00" y2="284.30" stroke="#000" stroke-width="1.5"/>
<text x="380.6" y="287.8" font-family="Liberation Serif" font-size="10.2" font-weight="bold" text-anchor="end" fill="#000">60</text>
<line x1="385.50" y1="300.00" x2="390.00" y2="300.00" stroke="#000" stroke-width="1.5"/>
<text x="380.6" y="303.5" font-family="Liberation Serif" font-size="10.2" font-weight="bold" text-anchor="end" fill="#000">50</text>
<line x1="385.50" y1="325.80" x2="390.00" y2="325.80" stroke="#000" stroke-width="1.5"/>
<text x="380.6" y="329.3" font-family="Liberation Serif" font-size="10.2" font-weight="bold" text-anchor="end" fill="#000">20</text>
<line x1="385.50" y1="341.40" x2="390.00" y2="341.40" stroke="#000" stroke-width="1.5"/>
<text x="380.6" y="344.9" font-family="Liberation Serif" font-size="10.2" font-weight="bold" text-anchor="end" fill="#000">10</text>
<line x1="385.50" y1="357.00" x2="390.00" y2="357.00" stroke="#000" stroke-width="1.5"/>
<text x="380.6" y="360.5" font-family="Liberation Serif" font-size="10.2" font-weight="bold" text-anchor="end" fill="#000">0</text>
<line x1="379.20" y1="308.10" x2="397.30" y2="313.60" stroke="#000" stroke-width="1.3"/>
<line x1="379.20" y1="311.80" x2="397.30" y2="317.70" stroke="#000" stroke-width="1.3"/>
<line x1="389.20" y1="357.30" x2="496.00" y2="357.30" stroke="#000" stroke-width="1.6"/>
<text x="360.5" y="309.2" font-family="Liberation Sans" font-size="10" font-weight="bold" text-anchor="middle" fill="#000" transform="rotate(-90 360.5 309.2)">Fold enrichment</text>
<rect x="391.80" y="356.00" width="13.30" height="1.30" fill="#444" stroke="#000" stroke-width="1.9"/>
<rect x="410.00" y="346.90" width="13.10" height="10.40" fill="#8c8c8c" stroke="#000" stroke-width="1.9"/>
<line x1="416.55" y1="343.00" x2="416.55" y2="351.00" stroke="#000" stroke-width="1.7"/>
<line x1="412.55" y1="343.00" x2="420.55" y2="343.00" stroke="#000" stroke-width="1.8"/>
<line x1="412.55" y1="351.00" x2="420.55" y2="351.00" stroke="#000" stroke-width="1.8"/>
<rect x="428.40" y="283.80" width="12.60" height="73.50" fill="#8c8c8c" stroke="#000" stroke-width="1.9"/>
<line x1="434.70" y1="262.30" x2="434.70" y2="306.70" stroke="#000" stroke-width="1.7"/>
<line x1="430.70" y1="262.30" x2="438.70" y2="262.30" stroke="#000" stroke-width="1.8"/>
<line x1="430.70" y1="306.70" x2="438.70" y2="306.70" stroke="#000" stroke-width="1.8"/>
<polygon points="424.6,307.3 442.3,313.0 442.3,316.6 424.6,310.9" fill="#fff"/>
<line x1="424.60" y1="307.30" x2="442.30" y2="313.00" stroke="#000" stroke-width="1.3"/>
<line x1="424.60" y1="310.90" x2="442.30" y2="316.60" stroke="#000" stroke-width="1.3"/>
<rect x="446.30" y="356.00" width="12.70" height="1.30" fill="#444" stroke="#000" stroke-width="1.9"/>
<rect x="465.00" y="341.40" width="12.70" height="15.90" fill="#8c8c8c" stroke="#000" stroke-width="1.9"/>
<line x1="471.35" y1="336.70" x2="471.35" y2="346.90" stroke="#000" stroke-width="1.7"/>
<line x1="467.35" y1="336.70" x2="475.35" y2="336.70" stroke="#000" stroke-width="1.8"/>
<line x1="467.35" y1="346.90" x2="475.35" y2="346.90" stroke="#000" stroke-width="1.8"/>
<rect x="482.30" y="328.70" width="12.30" height="28.60" fill="#8c8c8c" stroke="#000" stroke-width="1.9"/>
<line x1="488.45" y1="321.90" x2="488.45" y2="336.30" stroke="#000" stroke-width="1.7"/>
<line x1="484.45" y1="321.90" x2="492.45" y2="321.90" stroke="#000" stroke-width="1.8"/>
<line x1="484.45" y1="336.30" x2="492.45" y2="336.30" stroke="#000" stroke-width="1.8"/>
<text x="398.9" y="247.2" font-family="Liberation Sans" font-size="9" font-weight="bold"><tspan font-family="Liberation Serif" font-weight="normal" font-size="11.2">&#945;</tspan><tspan font-family="Liberation Sans">RUNX1</tspan></text>
<line x1="395.30" y1="249.20" x2="438.20" y2="249.20" stroke="#000" stroke-width="1.6"/>
<text x="454.5" y="247.2" font-family="Liberation Sans" font-size="9" font-weight="bold"><tspan font-family="Liberation Serif" font-weight="normal" font-size="11.2">&#945;</tspan><tspan font-family="Liberation Sans">FOS</tspan></text>
<line x1="446.00" y1="249.20" x2="489.00" y2="249.20" stroke="#000" stroke-width="1.6"/>
<text x="394.8" y="365.90000000000003" font-family="Liberation Sans" font-size="7.8" font-weight="bold" text-anchor="start" fill="#000" transform="rotate(45 394.8 365.90000000000003)">NIS</text>
<text x="410.7" y="365.90000000000003" font-family="Liberation Sans" font-size="7.8" font-weight="bold" text-anchor="start" fill="#000" transform="rotate(45 410.7 365.90000000000003)">CONT</text>
<text x="431.8" y="365.90000000000003" font-family="Liberation Sans" font-size="7.8" font-weight="bold" text-anchor="start" fill="#000" transform="rotate(45 431.8 365.90000000000003)">TPA</text>
<text x="449.5" y="365.20000000000005" font-family="Liberation Sans" font-size="7.8" font-weight="bold" text-anchor="start" fill="#000" transform="rotate(45 449.5 365.20000000000005)">NIS</text>
<text x="466.09999999999997" y="365.90000000000003" font-family="Liberation Sans" font-size="7.8" font-weight="bold" text-anchor="start" fill="#000" transform="rotate(45 466.09999999999997 365.90000000000003)">CONT</text>
<text x="486.4" y="365.90000000000003" font-family="Liberation Sans" font-size="7.8" font-weight="bold" text-anchor="start" fill="#000" transform="rotate(45 486.4 365.90000000000003)">TPA</text>
<line x1="393.30" y1="382.50" x2="393.30" y2="442.00" stroke="#000" stroke-width="1.6"/>
<line x1="392.50" y1="442.00" x2="514.00" y2="442.00" stroke="#000" stroke-width="1.6"/>
<line x1="393.30" y1="442.00" x2="393.30" y2="445.50" stroke="#000" stroke-width="1.3"/>
<text x="393.3" y="458" font-family="Liberation Sans" font-size="10" font-weight="bold" text-anchor="middle" fill="#000">0</text>
<line x1="440.00" y1="442.00" x2="440.00" y2="445.50" stroke="#000" stroke-width="1.3"/>
<text x="440.0" y="458" font-family="Liberation Sans" font-size="10" font-weight="bold" text-anchor="middle" fill="#000">1</text>
<line x1="486.30" y1="442.00" x2="486.30" y2="445.50" stroke="#000" stroke-width="1.3"/>
<text x="486.3" y="458" font-family="Liberation Sans" font-size="10" font-weight="bold" text-anchor="middle" fill="#000">2</text>
<text x="398.3" y="470.0" font-family="Liberation Sans" font-size="9.4" font-weight="bold" text-anchor="start" fill="#000" textLength="106.8" lengthAdjust="spacingAndGlyphs">Relative luminescence</text>
<rect x="393.30" y="385.50" width="3.70" height="10.00" fill="#5050a0" stroke="#000" stroke-width="1.8"/>
<rect x="393.30" y="401.30" width="103.00" height="10.00" fill="#9a9cf0" stroke="#000" stroke-width="1.8"/>
<line x1="485.00" y1="406.30" x2="508.80" y2="406.30" stroke="#000" stroke-width="1.6"/>
<line x1="485.00" y1="401.30" x2="485.00" y2="411.30" stroke="#000" stroke-width="1.8"/>
<line x1="508.80" y1="402.70" x2="508.80" y2="409.90" stroke="#000" stroke-width="1.8"/>
<rect x="393.30" y="416.00" width="20.30" height="10.20" fill="#9a9cf0" stroke="#000" stroke-width="1.8"/>
<line x1="410.00" y1="421.10" x2="415.30" y2="421.10" stroke="#000" stroke-width="1.6"/>
<line x1="410.00" y1="416.00" x2="410.00" y2="426.20" stroke="#000" stroke-width="1.8"/>
<line x1="415.30" y1="417.43" x2="415.30" y2="424.77" stroke="#000" stroke-width="1.8"/>
<rect x="393.30" y="431.20" width="26.70" height="9.00" fill="#9a9cf0" stroke="#000" stroke-width="1.8"/>
<line x1="416.50" y1="435.70" x2="423.40" y2="435.70" stroke="#000" stroke-width="1.6"/>
<line x1="416.50" y1="431.20" x2="416.50" y2="440.20" stroke="#000" stroke-width="1.8"/>
<line x1="423.40" y1="432.46" x2="423.40" y2="438.94" stroke="#000" stroke-width="1.8"/>
<rect x="381.00" y="382.90" width="6.30" height="12.50" fill="#fff" stroke="#222" stroke-width="1.1"/>
<rect x="307.90" y="399.20" width="79.40" height="12.50" fill="#fff" stroke="#222" stroke-width="1.1"/>
<rect x="314.60" y="399.20" width="30.40" height="12.50" fill="#dff5df" stroke="#222" stroke-width="1.0"/>
<rect x="350.80" y="399.20" width="30.20" height="12.50" fill="#f7f2a6" stroke="#222" stroke-width="1.0"/>
<text x="329.8" y="409.318" font-family="Liberation Sans" font-size="8.8" font-weight="bold" text-anchor="middle" fill="#000">RUNX</text>
<text x="365.9" y="409.318" font-family="Liberation Sans" font-size="8.8" font-weight="bold" text-anchor="middle" fill="#000">AP-1</text>
<rect x="307.90" y="415.60" width="79.40" height="12.40" fill="#fff" stroke="#222" stroke-width="1.1"/>
<rect x="314.60" y="415.60" width="30.40" height="12.40" fill="#dff5df" stroke="#222" stroke-width="1.0"/>
<rect x="350.80" y="415.60" width="30.20" height="12.40" fill="#f7f2a6" stroke="#222" stroke-width="1.0"/>
<text x="329.8" y="425.668" font-family="Liberation Sans" font-size="8.8" font-weight="bold" text-anchor="middle" fill="#000">RUNX</text>
<text x="365.9" y="425.668" font-family="Liberation Sans" font-size="8.8" font-weight="bold" text-anchor="middle" fill="#000">AP-1</text>
<rect x="307.90" y="431.90" width="79.40" height="12.50" fill="#fff" stroke="#222" stroke-width="1.1"/>
<rect x="314.60" y="431.90" width="30.40" height="12.50" fill="#dff5df" stroke="#222" stroke-width="1.0"/>
<rect x="350.80" y="431.90" width="30.20" height="12.50" fill="#f7f2a6" stroke="#222" stroke-width="1.0"/>
<text x="329.8" y="442.018" font-family="Liberation Sans" font-size="8.8" font-weight="bold" text-anchor="middle" fill="#000">RUNX</text>
<text x="365.9" y="442.018" font-family="Liberation Sans" font-size="8.8" font-weight="bold" text-anchor="middle" fill="#000">AP-1</text>
<path d="M319.4,417.5 L337.7,435.8 M337.7,417.5 L319.4,435.8" stroke="#e32020" stroke-width="2.9" fill="none"/>
<path d="M356,434.8 L374,450 M374,434.8 L356,450" stroke="#e32020" stroke-width="2.9" fill="none"/>
<text x="5.8" y="503.2" font-family="Liberation Sans" font-size="11" font-weight="bold" text-anchor="start" fill="#000">C</text>
<text x="26" y="510.1" font-family="Liberation Sans" font-size="10" font-weight="bold" text-anchor="start" fill="#000">Chr 3: 4,489,000-4,920,000</text>
<rect x="24.30" y="513.20" width="239.00" height="22.50" fill="none" stroke="#7a7a7a" stroke-width="1"/>
<polygon points="24.80,535.1 24.80,535.0 25.05,534.6 25.30,534.1 25.55,533.5 25.80,534.5 26.05,534.6 26.30,534.1 26.55,534.5 26.80,534.6 27.05,530.4 27.30,534.5 27.55,531.5 27.80,534.4 28.05,533.8 28.30,533.7 28.55,534.1 28.80,534.3 29.05,534.3 29.30,534.3 29.55,534.6 29.80,533.9 30.05,533.9 30.30,533.8 30.55,534.2 30.80,533.7 31.05,532.1 31.30,533.8 31.55,533.7 31.80,533.9 32.05,533.9 32.30,534.0 32.55,534.3 32.80,533.9 33.05,534.4 33.30,534.3 33.55,533.8 33.80,533.9 34.05,533.9 34.30,533.7 34.55,533.7 34.80,533.5 35.05,533.0 35.30,532.2 35.55,533.4 35.80,533.7 36.05,534.2 36.30,534.1 36.55,533.9 36.80,533.1 37.05,532.2 37.30,532.9 37.55,533.7 37.80,532.5 38.05,534.4 38.30,534.1 38.55,534.2 38.80,534.1 39.05,534.4 39.30,534.1 39.55,533.9 39.80,534.3 40.05,534.3 40.30,532.1 40.55,534.1 40.80,534.5 41.05,534.3 41.30,534.4 41.55,534.5 41.80,534.1 42.05,534.2 42.30,533.7 42.55,533.8 42.80,533.6 43.05,533.6 43.30,533.6 43.55,533.9 43.80,533.5 44.05,533.6 44.30,534.3 44.55,529.5 44.80,533.8 45.05,533.8 45.30,533.5 45.55,533.4 45.80,533.9 46.05,534.0 46.30,534.1 46.55,534.3 46.80,532.1 47.05,533.8 47.30,534.3 47.55,533.2 47.80,534.3 48.05,534.5 48.30,534.3 48.55,534.3 48.80,533.9 49.05,531.0 49.30,533.5 49.55,534.1 49.80,534.0 50.05,534.1 50.30,534.2 50.55,534.5 50.80,534.2 51.05,533.4 51.30,530.3 51.55,534.1 51.80,531.9 52.05,534.2 52.30,532.9 52.55,534.0 52.80,533.8 53.05,534.1 53.30,534.0 53.55,534.1 53.80,531.8 54.05,530.2 54.30,533.1 54.55,533.8 54.80,533.8 55.05,533.6 55.30,534.0 55.55,534.1 55.80,532.5 56.05,534.3 56.30,533.9 56.55,534.0 56.80,533.8 57.05,533.9 57.30,534.2 57.55,534.5 57.80,532.5 58.05,531.2 58.30,533.5 58.55,534.0 58.80,534.3 59.05,534.2 59.30,533.8 59.55,534.0 59.80,533.8 60.05,534.0 60.30,533.7 60.55,533.5 60.80,533.6 61.05,534.0 61.30,534.2 61.55,534.0 61.80,534.1 62.05,533.0 62.30,534.3 62.55,532.4 62.80,534.1 63.05,534.2 63.30,534.2 63.55,534.0 63.80,533.2 64.05,534.2 64.30,534.0 64.55,534.3 64.80,534.3 65.05,534.5 65.30,534.6 65.55,534.7 65.80,534.7 66.05,534.8 66.30,534.8 66.55,534.2 66.80,534.6 67.05,534.0 67.30,534.4 67.55,534.0 67.80,533.6 68.05,533.5 68.30,534.0 68.55,533.9 68.80,534.3 69.05,533.9 69.30,534.3 69.55,534.4 69.80,534.3 70.05,534.2 70.30,534.4 70.55,534.4 70.80,534.3 71.05,533.9 71.30,534.1 71.55,533.9 71.80,534.1 72.05,533.9 72.30,533.1 72.55,533.5 72.80,533.4 73.05,533.8 73.30,534.2 73.55,534.3 73.80,534.1 74.05,533.7 74.30,533.4 74.55,533.6 74.80,533.8 75.05,534.2 75.30,534.5 75.55,533.8 75.80,534.6 76.05,534.4 76.30,534.6 76.55,534.1 76.80,533.9 77.05,533.7 77.30,533.4 77.55,533.4 77.80,534.1 78.05,532.5 78.30,534.1 78.55,534.0 78.80,534.3 79.05,534.4 79.30,534.0 79.55,533.8 79.80,534.0 80.05,533.6 80.30,533.4 80.55,533.4 80.80,533.2 81.05,533.9 81.30,533.6 81.55,534.1 81.80,533.3 82.05,534.2 82.30,533.7 82.55,533.9 82.80,534.0 83.05,534.2 83.30,534.1 83.55,534.5 83.80,534.2 84.05,534.5 84.30,534.6 84.55,534.0 84.80,533.8 85.05,533.8 85.30,533.6 85.55,534.0 85.80,532.8 86.05,534.2 86.30,534.1 86.55,533.7 86.80,534.2 87.05,534.4 87.30,534.2 87.55,533.9 87.80,534.0 88.05,534.2 88.30,534.6 88.55,534.6 88.80,534.0 89.05,534.0 89.30,534.4 89.55,533.1 89.80,533.1 90.05,532.2 90.30,533.8 90.55,529.5 90.80,533.5 91.05,533.6 91.30,533.5 91.55,534.0 91.80,534.0 92.05,534.2 92.30,534.1 92.55,534.4 92.80,534.2 93.05,534.5 93.30,534.1 93.55,534.3 93.80,534.3 94.05,534.1 94.30,533.7 94.55,533.7 94.80,533.6 95.05,534.0 95.30,533.7 95.55,533.9 95.80,533.6 96.05,533.5 96.30,533.8 96.55,533.7 96.80,533.9 97.05,534.1 97.30,533.8 97.55,533.5 97.80,533.7 98.05,533.8 98.30,534.2 98.55,533.7 98.80,533.9 99.05,534.2 99.30,534.5 99.55,534.1 99.80,533.4 100.05,532.7 100.30,534.0 100.55,534.0 100.80,534.1 101.05,528.9 101.30,534.3 101.55,534.0 101.80,533.9 102.05,534.3 102.30,534.0 102.55,533.7 102.80,534.3 103.05,533.7 103.30,533.6 103.55,533.8 103.80,533.9 104.05,534.2 104.30,534.4 104.55,533.7 104.80,534.1 105.05,533.2 105.30,534.1 105.55,533.9 105.80,533.6 106.05,534.1 106.30,533.7 106.55,534.1 106.80,533.7 107.05,533.5 107.30,533.6 107.55,533.6 107.80,533.7 108.05,534.1 108.30,534.0 108.55,531.4 108.80,534.0 109.05,533.6 109.30,534.0 109.55,534.4 109.80,534.1 110.05,532.9 110.30,534.0 110.55,533.7 110.80,533.5 111.05,531.2 111.30,533.5 111.55,533.7 111.80,533.4 112.05,533.6 112.30,533.5 112.55,533.2 112.80,532.5 113.05,534.3 113.30,533.4 113.55,534.1 113.80,534.4 114.05,534.2 114.30,533.7 114.55,533.5 114.80,533.6 115.05,533.9 115.30,533.5 115.55,533.8 115.80,534.1 116.05,534.2 116.30,533.7 116.55,533.2 116.80,533.6 117.05,533.7 117.30,534.0 117.55,533.7 117.80,533.5 118.05,533.8 118.30,533.7 118.55,533.9 118.80,530.7 119.05,533.4 119.30,526.2 119.55,521.9 119.80,529.8 120.05,534.5 120.30,534.3 120.55,534.6 120.80,534.1 121.05,533.9 121.30,534.2 121.55,534.0 121.80,533.6 122.05,533.8 122.30,533.5 122.55,533.9 122.80,533.8 123.05,533.4 123.30,534.0 123.55,533.9 123.80,533.7 124.05,533.9 124.30,533.6 124.55,532.2 124.80,534.0 125.05,534.1 125.30,529.1 125.55,533.9 125.80,533.6 126.05,533.5 126.30,533.7 126.55,534.1 126.80,534.0 127.05,531.5 127.30,534.3 127.55,534.3 127.80,534.2 128.05,533.8 128.30,533.6 128.55,533.4 128.80,534.0 129.05,534.4 129.30,534.4 129.55,532.8 129.80,534.4 130.05,533.8 130.30,531.4 130.55,533.9 130.80,533.8 131.05,532.9 131.30,534.1 131.55,533.7 131.80,533.7 132.05,534.0 132.30,528.7 132.55,533.6 132.80,531.7 133.05,533.9 133.30,533.9 133.55,533.9 133.80,534.4 134.05,533.9 134.30,534.2 134.55,533.7 134.80,533.5 135.05,533.6 135.30,533.7 135.55,533.6 135.80,534.1 136.05,533.8 136.30,533.5 136.55,533.9 136.80,533.4 137.05,534.2 137.30,533.7 137.55,533.5 137.80,533.7 138.05,534.0 138.30,533.7 138.55,534.2 138.80,534.5 139.05,534.7 139.30,533.0 139.55,533.8 139.80,533.2 140.05,533.5 140.30,530.1 140.55,534.4 140.80,534.5 141.05,534.2 141.30,533.7 141.55,534.2 141.80,534.6 142.05,534.3 142.30,533.9 142.55,533.8 142.80,533.5 143.05,533.1 143.30,533.5 143.55,533.3 143.80,533.8 144.05,534.2 144.30,533.7 144.55,533.4 144.80,533.3 145.05,533.4 145.30,533.6 145.55,534.0 145.80,534.1 146.05,534.4 146.30,534.2 146.55,534.6 146.80,534.1 147.05,534.4 147.30,534.3 147.55,533.9 147.80,534.3 148.05,534.3 148.30,534.2 148.55,533.8 148.80,534.2 149.05,534.0 149.30,534.3 149.55,533.8 149.80,533.7 150.05,533.3 150.30,534.1 150.55,534.2 150.80,533.8 151.05,534.2 151.30,534.3 151.55,534.0 151.80,533.9 152.05,533.9 152.30,534.1 152.55,533.9 152.80,533.9 153.05,533.8 153.30,531.5 153.55,533.5 153.80,533.4 154.05,532.2 154.30,533.4 154.55,533.4 154.80,534.0 155.05,533.7 155.30,533.4 155.55,534.2 155.80,534.0 156.05,534.0 156.30,533.8 156.55,533.9 156.80,534.1 157.05,534.2 157.30,533.0 157.55,533.6 157.80,533.4 158.05,533.9 158.30,534.2 158.55,534.2 158.80,533.7 159.05,533.7 159.30,534.1 159.55,534.0 159.80,534.3 160.05,534.4 160.30,533.8 160.55,533.5 160.80,533.5 161.05,533.5 161.30,534.0 161.55,534.0 161.80,533.9 162.05,533.9 162.30,534.2 162.55,533.3 162.80,533.1 163.05,534.0 163.30,533.9 163.55,527.4 163.80,534.4 164.05,534.0 164.30,534.3 164.55,533.5 164.80,533.9 165.05,533.7 165.30,534.3 165.55,534.4 165.80,533.7 166.05,534.2 166.30,534.3 166.55,534.4 166.80,534.2 167.05,534.3 167.30,534.0 167.55,533.8 167.80,534.1 168.05,534.4 168.30,534.6 168.55,534.2 168.80,534.2 169.05,533.8 169.30,533.9 169.55,530.8 169.80,534.0 170.05,533.9 170.30,533.5 170.55,534.0 170.80,534.1 171.05,534.3 171.30,533.8 171.55,533.0 171.80,534.4 172.05,534.3 172.30,534.3 172.55,532.4 172.80,520.5 173.05,513.7 173.30,526.4 173.55,533.5 173.80,533.9 174.05,533.0 174.30,534.3 174.55,533.9 174.80,533.7 175.05,533.9 175.30,533.9 175.55,534.2 175.80,534.5 176.05,534.3 176.30,533.8 176.55,533.5 176.80,534.1 177.05,534.3 177.30,533.0 177.55,533.0 177.80,534.0 178.05,531.6 178.30,534.6 178.55,534.8 178.80,534.5 179.05,534.1 179.30,534.4 179.55,533.9 179.80,534.0 180.05,534.3 180.30,534.4 180.55,534.5 180.80,534.7 181.05,534.2 181.30,534.1 181.55,534.3 181.80,534.1 182.05,529.1 182.30,534.0 182.55,533.9 182.80,533.9 183.05,533.5 183.30,533.3 183.55,533.5 183.80,533.9 184.05,533.7 184.30,534.0 184.55,533.9 184.80,533.9 185.05,534.3 185.30,534.3 185.55,534.4 185.80,534.6 186.05,534.2 186.30,534.2 186.55,534.1 186.80,534.3 187.05,534.2 187.30,533.7 187.55,532.0 187.80,533.8 188.05,533.4 188.30,533.5 188.55,534.1 188.80,534.2 189.05,534.1 189.30,534.5 189.55,534.7 189.80,534.7 190.05,534.3 190.30,533.9 190.55,533.6 190.80,533.7 191.05,533.5 191.30,533.4 191.55,534.0 191.80,534.2 192.05,534.2 192.30,534.3 192.55,534.3 192.80,534.0 193.05,532.7 193.30,533.6 193.55,533.5 193.80,533.8 194.05,533.7 194.30,533.7 194.55,533.6 194.80,533.7 195.05,533.9 195.30,533.7 195.55,533.6 195.80,533.8 196.05,533.8 196.30,534.0 196.55,534.2 196.80,534.6 197.05,534.4 197.30,533.9 197.55,534.1 197.80,534.2 198.05,534.5 198.30,534.1 198.55,534.4 198.80,534.3 199.05,533.9 199.30,533.9 199.55,534.4 199.80,533.1 200.05,532.2 200.30,533.9 200.55,533.7 200.80,534.0 201.05,534.4 201.30,533.8 201.55,533.9 201.80,533.0 202.05,533.6 202.30,533.6 202.55,534.0 202.80,533.7 203.05,533.1 203.30,533.1 203.55,533.4 203.80,533.4 204.05,533.7 204.30,533.8 204.55,533.5 204.80,533.3 205.05,533.5 205.30,533.6 205.55,533.7 205.80,533.6 206.05,533.8 206.30,533.9 206.55,534.1 206.80,533.8 207.05,533.7 207.30,533.8 207.55,534.0 207.80,534.3 208.05,533.0 208.30,533.9 208.55,533.9 208.80,534.2 209.05,534.2 209.30,534.3 209.55,533.9 209.80,532.7 210.05,534.1 210.30,533.6 210.55,533.9 210.80,534.2 211.05,533.7 211.30,534.0 211.55,534.0 211.80,534.4 212.05,534.4 212.30,534.3 212.55,534.1 212.80,532.4 213.05,533.9 213.30,533.9 213.55,533.9 213.80,534.1 214.05,533.7 214.30,533.9 214.55,533.5 214.80,534.0 215.05,534.0 215.30,534.2 215.55,534.2 215.80,534.2 216.05,534.3 216.30,534.1 216.55,534.1 216.80,534.1 217.05,533.7 217.30,531.8 217.55,530.2 217.80,533.1 218.05,532.8 218.30,533.6 218.55,533.5 218.80,533.7 219.05,533.4 219.30,533.7 219.55,534.2 219.80,533.7 220.05,532.9 220.30,534.4 220.55,534.1 220.80,534.1 221.05,534.1 221.30,533.8 221.55,532.8 221.80,533.8 222.05,533.6 222.30,533.4 222.55,533.5 222.80,533.7 223.05,525.1 223.30,516.1 223.55,525.1 223.80,533.7 224.05,530.2 224.30,534.2 224.55,534.6 224.80,534.5 225.05,534.6 225.30,534.2 225.55,534.6 225.80,532.8 226.05,533.6 226.30,533.1 226.55,533.7 226.80,534.1 227.05,533.9 227.30,532.9 227.55,534.2 227.80,534.1 228.05,533.7 228.30,533.7 228.55,533.8 228.80,533.6 229.05,533.4 229.30,534.0 229.55,532.6 229.80,533.8 230.05,534.0 230.30,533.3 230.55,533.9 230.80,534.3 231.05,533.8 231.30,533.8 231.55,534.2 231.80,534.5 232.05,533.9 232.30,534.1 232.55,534.5 232.80,534.4 233.05,534.0 233.30,533.7 233.55,533.4 233.80,533.3 234.05,533.9 234.30,534.2 234.55,533.7 234.80,534.1 235.05,534.3 235.30,533.9 235.55,530.8 235.80,533.9 236.05,533.7 236.30,533.8 236.55,533.6 236.80,533.8 237.05,534.1 237.30,533.8 237.55,533.8 237.80,534.0 238.05,534.2 238.30,534.0 238.55,533.2 238.80,534.2 239.05,534.2 239.30,534.2 239.55,534.1 239.80,533.8 240.05,534.3 240.30,533.9 240.55,533.8 240.80,533.9 241.05,531.4 241.30,534.1 241.55,534.5 241.80,531.1 242.05,534.7 242.30,528.6 242.55,534.1 242.80,534.4 243.05,533.9 243.30,529.8 243.55,527.3 243.80,531.9 244.05,534.7 244.30,534.1 244.55,534.2 244.80,534.2 245.05,534.2 245.30,533.9 245.55,533.7 245.80,534.2 246.05,533.9 246.30,532.4 246.55,534.2 246.80,533.9 247.05,533.8 247.30,533.7 247.55,533.9 247.80,533.8 248.05,533.9 248.30,534.1 248.55,534.1 248.80,533.9 249.05,533.9 249.30,533.9 249.55,534.2 249.80,534.2 250.05,533.7 250.30,534.0 250.55,534.1 250.80,534.5 251.05,534.6 251.30,534.0 251.55,534.2 251.80,534.5 252.05,534.2 252.30,532.6 252.55,533.9 252.80,533.3 253.05,533.6 253.30,533.5 253.55,533.5 253.80,533.6 254.05,534.2 254.30,534.4 254.55,534.3 254.80,534.5 255.05,533.2 255.30,534.7 255.55,534.2 255.80,534.1 256.05,533.8 256.30,534.1 256.55,534.3 256.80,534.1 257.05,534.4 257.30,534.2 257.55,534.0 257.80,531.1 258.05,529.3 258.30,532.7 258.55,534.3 258.80,533.1 259.05,533.9 259.30,534.2 259.55,533.7 259.80,533.6 260.05,533.4 260.30,533.8 260.55,533.6 260.80,533.6 261.05,533.7 261.30,533.8 261.55,534.0 261.80,533.6 262.05,533.8 262.30,534.3 262.55,534.2 262.80,534.3 262.80,535.1" fill="#2fd82f"/>
<line x1="24.30" y1="535.10" x2="263.30" y2="535.10" stroke="#0c8c0c" stroke-width="1.6"/>
<line x1="30.50" y1="513.20" x2="30.50" y2="515.70" stroke="#666" stroke-width="0.8"/>
<line x1="41.60" y1="513.20" x2="41.60" y2="515.70" stroke="#666" stroke-width="0.8"/>
<line x1="52.70" y1="513.20" x2="52.70" y2="515.70" stroke="#666" stroke-width="0.8"/>
<line x1="63.80" y1="513.20" x2="63.80" y2="515.70" stroke="#666" stroke-width="0.8"/>
<line x1="74.90" y1="513.20" x2="74.90" y2="515.70" stroke="#666" stroke-width="0.8"/>
<line x1="86.00" y1="513.20" x2="86.00" y2="515.70" stroke="#666" stroke-width="0.8"/>
<line x1="97.10" y1="513.20" x2="97.10" y2="515.70" stroke="#666" stroke-width="0.8"/>
<line x1="108.20" y1="513.20" x2="108.20" y2="515.70" stroke="#666" stroke-width="0.8"/>
<line x1="119.30" y1="513.20" x2="119.30" y2="515.70" stroke="#666" stroke-width="0.8"/>
<line x1="130.40" y1="513.20" x2="130.40" y2="515.70" stroke="#666" stroke-width="0.8"/>
<line x1="141.50" y1="513.20" x2="141.50" y2="515.70" stroke="#666" stroke-width="0.8"/>
<line x1="152.60" y1="513.20" x2="152.60" y2="515.70" stroke="#666" stroke-width="0.8"/>
<line x1="163.70" y1="513.20" x2="163.70" y2="515.70" stroke="#666" stroke-width="0.8"/>
<line x1="174.80" y1="513.20" x2="174.80" y2="515.70" stroke="#666" stroke-width="0.8"/>
<line x1="185.90" y1="513.20" x2="185.90" y2="515.70" stroke="#666" stroke-width="0.8"/>
<line x1="197.00" y1="513.20" x2="197.00" y2="515.70" stroke="#666" stroke-width="0.8"/>
<line x1="208.10" y1="513.20" x2="208.10" y2="515.70" stroke="#666" stroke-width="0.8"/>
<line x1="219.20" y1="513.20" x2="219.20" y2="515.70" stroke="#666" stroke-width="0.8"/>
<line x1="230.30" y1="513.20" x2="230.30" y2="515.70" stroke="#666" stroke-width="0.8"/>
<line x1="241.40" y1="513.20" x2="241.40" y2="515.70" stroke="#666" stroke-width="0.8"/>
<line x1="252.50" y1="513.20" x2="252.50" y2="515.70" stroke="#666" stroke-width="0.8"/>
<rect x="24.30" y="538.20" width="239.00" height="23.30" fill="none" stroke="#7a7a7a" stroke-width="1"/>
<polygon points="24.80,560.9 24.80,560.0 25.05,560.3 25.30,560.0 25.55,559.9 25.80,560.3 26.05,560.1 26.30,560.1 26.55,559.9 26.80,559.3 27.05,559.6 27.30,559.8 27.55,559.6 27.80,559.5 28.05,559.3 28.30,559.9 28.55,559.5 28.80,559.8 29.05,557.8 29.30,559.5 29.55,559.5 29.80,559.2 30.05,557.6 30.30,559.6 30.55,559.2 30.80,559.2 31.05,559.5 31.30,559.9 31.55,560.1 31.80,560.2 32.05,560.3 32.30,560.1 32.55,559.6 32.80,559.7 33.05,559.6 33.30,559.7 33.55,558.9 33.80,559.8 34.05,559.2 34.30,559.9 34.55,559.8 34.80,560.2 35.05,557.3 35.30,549.5 35.55,550.9 35.80,558.5 36.05,559.7 36.30,559.3 36.55,559.1 36.80,559.2 37.05,559.6 37.30,559.2 37.55,559.5 37.80,559.5 38.05,560.0 38.30,559.5 38.55,560.0 38.80,559.5 39.05,559.8 39.30,560.2 39.55,560.1 39.80,560.4 40.05,556.0 40.30,559.7 40.55,559.0 40.80,559.8 41.05,559.6 41.30,559.3 41.55,557.0 41.80,558.3 42.05,557.0 42.30,559.3 42.55,559.5 42.80,559.2 43.05,559.8 43.30,558.5 43.55,559.3 43.80,559.5 44.05,559.7 44.30,559.8 44.55,557.5 44.80,559.6 45.05,559.5 45.30,559.2 45.55,559.5 45.80,559.7 46.05,559.8 46.30,559.5 46.55,559.1 46.80,559.8 47.05,559.8 47.30,559.9 47.55,559.7 47.80,559.9 48.05,560.0 48.30,559.6 48.55,560.1 48.80,559.6 49.05,555.8 49.30,558.9 49.55,559.6 49.80,559.5 50.05,559.5 50.30,559.1 50.55,559.7 50.80,560.1 51.05,553.5 51.30,560.6 51.55,560.2 51.80,559.8 52.05,559.9 52.30,559.4 52.55,560.0 52.80,559.7 53.05,559.4 53.30,559.5 53.55,559.6 53.80,559.6 54.05,559.2 54.30,559.7 54.55,559.5 54.80,559.9 55.05,560.1 55.30,559.7 55.55,559.8 55.80,560.1 56.05,560.4 56.30,559.3 56.55,559.7 56.80,560.1 57.05,559.7 57.30,559.9 57.55,559.8 57.80,559.6 58.05,559.6 58.30,554.0 58.55,550.7 58.80,556.8 59.05,559.2 59.30,559.7 59.55,559.7 59.80,559.6 60.05,559.7 60.30,559.8 60.55,559.6 60.80,560.0 61.05,559.7 61.30,560.1 61.55,559.5 61.80,559.8 62.05,559.6 62.30,559.2 62.55,558.9 62.80,559.0 63.05,559.2 63.30,559.9 63.55,559.5 63.80,558.3 64.05,557.0 64.30,559.3 64.55,559.9 64.80,559.5 65.05,559.3 65.30,559.2 65.55,559.1 65.80,559.2 66.05,559.2 66.30,559.4 66.55,556.7 66.80,559.4 67.05,559.5 67.30,559.0 67.55,559.8 67.80,558.9 68.05,559.5 68.30,559.8 68.55,560.0 68.80,559.3 69.05,560.0 69.30,558.8 69.55,556.9 69.80,560.0 70.05,560.2 70.30,560.3 70.55,560.0 70.80,558.7 71.05,560.1 71.30,558.7 71.55,557.8 71.80,559.6 72.05,559.3 72.30,559.9 72.55,559.6 72.80,559.5 73.05,559.9 73.30,560.2 73.55,559.9 73.80,560.1 74.05,560.2 74.30,559.9 74.55,560.0 74.80,557.5 75.05,560.0 75.30,560.1 75.55,556.3 75.80,559.4 76.05,559.9 76.30,559.8 76.55,559.9 76.80,559.7 77.05,560.0 77.30,559.6 77.55,560.0 77.80,559.5 78.05,559.3 78.30,559.3 78.55,559.9 78.80,559.5 79.05,558.1 79.30,559.9 79.55,560.1 79.80,560.1 80.05,560.1 80.30,560.3 80.55,560.2 80.80,560.3 81.05,560.0 81.30,560.2 81.55,559.7 81.80,559.2 82.05,559.2 82.30,559.8 82.55,560.2 82.80,559.8 83.05,559.7 83.30,559.8 83.55,559.6 83.80,558.1 84.05,558.5 84.30,559.8 84.55,559.3 84.80,558.6 85.05,559.9 85.30,560.0 85.55,560.1 85.80,559.6 86.05,559.3 86.30,559.0 86.55,558.9 86.80,558.9 87.05,559.5 87.30,559.2 87.55,559.2 87.80,559.7 88.05,559.2 88.30,559.1 88.55,559.6 88.80,558.8 89.05,559.5 89.30,559.2 89.55,559.4 89.80,559.4 90.05,559.9 90.30,560.0 90.55,560.1 90.80,560.2 91.05,559.3 91.30,560.0 91.55,559.7 91.80,560.1 92.05,555.3 92.30,559.8 92.55,559.7 92.80,559.4 93.05,559.2 93.30,558.9 93.55,560.1 93.80,560.4 94.05,560.4 94.30,560.3 94.55,560.3 94.80,559.6 95.05,559.2 95.30,559.5 95.55,559.3 95.80,559.6 96.05,560.0 96.30,560.2 96.55,560.1 96.80,559.7 97.05,559.8 97.30,559.3 97.55,559.5 97.80,556.5 98.05,560.0 98.30,559.5 98.55,559.5 98.80,559.7 99.05,556.6 99.30,559.8 99.55,559.5 99.80,558.9 100.05,558.0 100.30,559.7 100.55,560.0 100.80,560.2 101.05,559.7 101.30,559.6 101.55,559.6 101.80,559.6 102.05,560.0 102.30,560.2 102.55,560.0 102.80,560.1 103.05,557.6 103.30,560.3 103.55,559.6 103.80,559.7 104.05,558.8 104.30,559.8 104.55,559.7 104.80,559.9 105.05,560.2 105.30,559.7 105.55,559.5 105.80,559.4 106.05,559.7 106.30,559.7 106.55,559.0 106.80,559.6 107.05,559.7 107.30,559.5 107.55,559.4 107.80,559.6 108.05,560.0 108.30,560.2 108.55,559.9 108.80,560.2 109.05,560.1 109.30,560.0 109.55,559.8 109.80,559.8 110.05,560.1 110.30,559.5 110.55,559.7 110.80,560.0 111.05,560.2 111.30,560.0 111.55,560.2 111.80,559.8 112.05,554.9 112.30,560.4 112.55,557.9 112.80,559.9 113.05,559.6 113.30,560.1 113.55,559.9 113.80,560.3 114.05,560.0 114.30,559.9 114.55,560.1 114.80,560.1 115.05,558.2 115.30,559.6 115.55,559.2 115.80,559.5 116.05,557.4 116.30,558.9 116.55,559.2 116.80,559.9 117.05,559.5 117.30,559.8 117.55,560.0 117.80,559.9 118.05,559.4 118.30,558.5 118.55,560.4 118.80,560.3 119.05,559.7 119.30,554.6 119.55,551.6 119.80,557.2 120.05,560.1 120.30,560.3 120.55,560.4 120.80,559.9 121.05,559.7 121.30,559.5 121.55,559.9 121.80,560.2 122.05,559.8 122.30,559.6 122.55,559.6 122.80,559.5 123.05,559.6 123.30,559.6 123.55,559.6 123.80,560.1 124.05,560.0 124.30,559.5 124.55,559.4 124.80,557.6 125.05,559.7 125.30,559.7 125.55,559.5 125.80,560.1 126.05,559.5 126.30,559.6 126.55,559.7 126.80,558.3 127.05,560.1 127.30,559.7 127.55,559.4 127.80,559.5 128.05,560.0 128.30,559.5 128.55,559.7 128.80,559.3 129.05,559.5 129.30,559.8 129.55,560.3 129.80,559.6 130.05,559.6 130.30,559.9 130.55,557.4 130.80,559.2 131.05,559.6 131.30,559.9 131.55,559.4 131.80,559.1 132.05,559.6 132.30,559.9 132.55,560.0 132.80,559.6 133.05,559.4 133.30,560.1 133.55,559.8 133.80,559.9 134.05,559.6 134.30,559.9 134.55,559.5 134.80,560.0 135.05,559.5 135.30,560.2 135.55,560.0 135.80,559.9 136.05,559.5 136.30,559.5 136.55,559.9 136.80,559.8 137.05,559.9 137.30,559.8 137.55,559.8 137.80,559.4 138.05,559.7 138.30,559.5 138.55,559.1 138.80,559.4 139.05,557.8 139.30,557.5 139.55,560.2 139.80,560.2 140.05,560.4 140.30,559.1 140.55,559.4 140.80,560.0 141.05,559.5 141.30,559.6 141.55,559.5 141.80,557.9 142.05,560.0 142.30,560.3 142.55,560.3 142.80,559.9 143.05,559.7 143.30,559.7 143.55,559.2 143.80,559.3 144.05,559.7 144.30,559.9 144.55,559.9 144.80,560.0 145.05,559.5 145.30,559.7 145.55,559.4 145.80,559.4 146.05,559.9 146.30,560.1 146.55,559.6 146.80,559.5 147.05,559.2 147.30,558.7 147.55,559.9 147.80,559.7 148.05,559.3 148.30,559.7 148.55,559.8 148.80,559.6 149.05,559.9 149.30,559.4 149.55,559.8 149.80,559.4 150.05,559.7 150.30,560.0 150.55,559.0 150.80,558.9 151.05,558.0 151.30,559.5 151.55,559.4 151.80,559.6 152.05,559.3 152.30,559.4 152.55,559.8 152.80,559.5 153.05,559.3 153.30,559.9 153.55,559.6 153.80,559.4 154.05,559.1 154.30,559.7 154.55,559.5 154.80,559.8 155.05,560.1 155.30,559.5 155.55,559.9 155.80,559.4 156.05,559.8 156.30,559.9 156.55,559.8 156.80,559.2 157.05,559.3 157.30,559.5 157.55,559.3 157.80,559.5 158.05,559.2 158.30,559.3 158.55,556.6 158.80,559.3 159.05,559.7 159.30,559.6 159.55,559.8 159.80,559.7 160.05,559.6 160.30,559.4 160.55,560.2 160.80,559.7 161.05,559.7 161.30,560.0 161.55,560.3 161.80,560.5 162.05,560.6 162.30,560.5 162.55,558.7 162.80,560.1 163.05,557.4 163.30,559.4 163.55,559.1 163.80,559.1 164.05,559.0 164.30,559.5 164.55,559.9 164.80,559.6 165.05,559.7 165.30,560.1 165.55,559.8 165.80,559.7 166.05,559.8 166.30,559.2 166.55,558.8 166.80,559.6 167.05,560.0 167.30,559.5 167.55,559.4 167.80,559.4 168.05,559.3 168.30,555.1 168.55,559.6 168.80,559.8 169.05,560.1 169.30,560.1 169.55,560.1 169.80,560.3 170.05,557.5 170.30,559.7 170.55,559.5 170.80,559.9 171.05,560.0 171.30,559.7 171.55,559.6 171.80,560.0 172.05,560.0 172.30,560.0 172.55,559.9 172.80,559.7 173.05,559.7 173.30,559.9 173.55,554.7 173.80,541.1 174.05,543.5 174.30,556.7 174.55,559.9 174.80,559.4 175.05,559.0 175.30,554.1 175.55,559.5 175.80,560.0 176.05,560.2 176.30,557.7 176.55,553.1 176.80,555.6 177.05,559.9 177.30,559.6 177.55,560.1 177.80,560.3 178.05,560.4 178.30,559.9 178.55,559.5 178.80,559.1 179.05,557.8 179.30,559.1 179.55,559.2 179.80,559.4 180.05,559.6 180.30,560.0 180.55,560.3 180.80,560.2 181.05,560.4 181.30,559.9 181.55,560.1 181.80,552.9 182.05,559.0 182.30,559.6 182.55,559.5 182.80,559.7 183.05,560.0 183.30,560.3 183.55,560.0 183.80,560.3 184.05,560.3 184.30,560.1 184.55,558.9 184.80,559.3 185.05,559.2 185.30,559.1 185.55,556.1 185.80,559.5 186.05,559.4 186.30,560.0 186.55,560.3 186.80,559.6 187.05,559.7 187.30,560.1 187.55,559.9 187.80,559.7 188.05,560.1 188.30,559.5 188.55,559.3 188.80,559.9 189.05,560.3 189.30,559.8 189.55,559.3 189.80,559.9 190.05,556.8 190.30,560.0 190.55,559.8 190.80,559.5 191.05,559.5 191.30,559.5 191.55,559.2 191.80,558.9 192.05,559.1 192.30,559.6 192.55,559.5 192.80,559.4 193.05,559.9 193.30,559.8 193.55,557.8 193.80,559.5 194.05,559.6 194.30,560.0 194.55,559.7 194.80,559.4 195.05,559.1 195.30,558.9 195.55,559.3 195.80,559.9 196.05,559.8 196.30,559.6 196.55,559.4 196.80,559.6 197.05,559.8 197.30,559.6 197.55,560.1 197.80,560.3 198.05,559.7 198.30,559.5 198.55,557.8 198.80,559.5 199.05,559.1 199.30,559.2 199.55,559.3 199.80,559.5 200.05,559.1 200.30,559.6 200.55,559.7 200.80,559.9 201.05,559.4 201.30,559.9 201.55,559.9 201.80,558.5 202.05,558.3 202.30,559.2 202.55,560.0 202.80,559.5 203.05,559.7 203.30,559.6 203.55,559.9 203.80,559.6 204.05,556.1 204.30,559.6 204.55,554.0 204.80,560.0 205.05,559.5 205.30,559.7 205.55,559.9 205.80,559.4 206.05,559.5 206.30,559.6 206.55,559.6 206.80,560.1 207.05,560.3 207.30,560.5 207.55,560.6 207.80,560.4 208.05,559.7 208.30,559.6 208.55,559.8 208.80,559.4 209.05,559.2 209.30,559.2 209.55,559.6 209.80,559.2 210.05,559.7 210.30,559.4 210.55,559.2 210.80,559.3 211.05,559.8 211.30,559.5 211.55,559.3 211.80,559.5 212.05,558.7 212.30,559.4 212.55,557.2 212.80,559.9 213.05,559.6 213.30,560.1 213.55,560.0 213.80,559.4 214.05,559.8 214.30,559.5 214.55,559.6 214.80,559.4 215.05,559.5 215.30,559.2 215.55,557.4 215.80,560.0 216.05,559.9 216.30,559.9 216.55,559.0 216.80,559.2 217.05,559.8 217.30,560.1 217.55,560.0 217.80,560.0 218.05,559.7 218.30,559.2 218.55,559.8 218.80,559.7 219.05,559.6 219.30,559.6 219.55,559.3 219.80,552.3 220.05,548.2 220.30,555.8 220.55,560.3 220.80,560.3 221.05,559.9 221.30,560.0 221.55,560.0 221.80,560.1 222.05,552.6 222.30,558.3 222.55,559.8 222.80,559.2 223.05,549.4 223.30,538.9 223.55,549.4 223.80,559.2 224.05,560.1 224.30,559.9 224.55,559.5 224.80,560.0 225.05,559.5 225.30,553.7 225.55,547.3 225.80,551.6 226.05,555.1 226.30,559.7 226.55,560.0 226.80,557.2 227.05,558.4 227.30,559.9 227.55,559.6 227.80,559.4 228.05,559.4 228.30,559.2 228.55,553.1 228.80,560.0 229.05,559.6 229.30,559.2 229.55,559.4 229.80,559.2 230.05,559.7 230.30,559.9 230.55,559.7 230.80,560.0 231.05,559.8 231.30,555.0 231.55,559.7 231.80,556.9 232.05,559.6 232.30,559.3 232.55,559.1 232.80,558.2 233.05,559.8 233.30,559.8 233.55,559.6 233.80,560.1 234.05,557.6 234.30,559.8 234.55,559.5 234.80,559.2 235.05,559.8 235.30,560.2 235.55,559.5 235.80,560.0 236.05,559.6 236.30,559.7 236.55,559.8 236.80,559.3 237.05,559.5 237.30,559.3 237.55,559.0 237.80,558.8 238.05,559.4 238.30,559.8 238.55,559.4 238.80,559.7 239.05,559.9 239.30,560.1 239.55,559.5 239.80,559.3 240.05,558.1 240.30,559.0 240.55,559.3 240.80,559.6 241.05,559.4 241.30,560.0 241.55,560.0 241.80,560.1 242.05,560.2 242.30,559.9 242.55,559.8 242.80,559.9 243.05,559.2 243.30,551.6 243.55,547.3 243.80,555.4 244.05,559.9 244.30,560.3 244.55,558.0 244.80,559.9 245.05,559.4 245.30,559.1 245.55,559.8 245.80,560.2 246.05,560.0 246.30,559.6 246.55,559.7 246.80,559.8 247.05,559.9 247.30,560.1 247.55,559.9 247.80,559.4 248.05,560.0 248.30,560.2 248.55,554.6 248.80,560.1 249.05,559.9 249.30,558.5 249.55,559.4 249.80,559.6 250.05,559.9 250.30,559.7 250.55,560.1 250.80,560.3 251.05,559.5 251.30,559.6 251.55,559.5 251.80,559.9 252.05,559.5 252.30,559.3 252.55,559.3 252.80,559.7 253.05,560.0 253.30,559.7 253.55,559.5 253.80,559.9 254.05,559.5 254.30,559.2 254.55,559.5 254.80,555.6 255.05,553.1 255.30,557.7 255.55,559.5 255.80,559.6 256.05,560.0 256.30,559.5 256.55,559.3 256.80,559.3 257.05,559.6 257.30,559.8 257.55,559.5 257.80,559.2 258.05,559.6 258.30,559.6 258.55,559.9 258.80,555.7 259.05,559.6 259.30,559.5 259.55,559.9 259.80,560.0 260.05,557.0 260.30,558.9 260.55,559.2 260.80,559.3 261.05,559.9 261.30,559.5 261.55,559.9 261.80,557.2 262.05,559.6 262.30,559.7 262.55,557.7 262.80,559.8 262.80,560.9" fill="#1414dc"/>
<line x1="24.30" y1="560.90" x2="263.30" y2="560.90" stroke="#10108a" stroke-width="1.6"/>
<line x1="30.50" y1="538.20" x2="30.50" y2="540.70" stroke="#666" stroke-width="0.8"/>
<line x1="41.60" y1="538.20" x2="41.60" y2="540.70" stroke="#666" stroke-width="0.8"/>
<line x1="52.70" y1="538.20" x2="52.70" y2="540.70" stroke="#666" stroke-width="0.8"/>
<line x1="63.80" y1="538.20" x2="63.80" y2="540.70" stroke="#666" stroke-width="0.8"/>
<line x1="74.90" y1="538.20" x2="74.90" y2="540.70" stroke="#666" stroke-width="0.8"/>
<line x1="86.00" y1="538.20" x2="86.00" y2="540.70" stroke="#666" stroke-width="0.8"/>
<line x1="97.10" y1="538.20" x2="97.10" y2="540.70" stroke="#666" stroke-width="0.8"/>
<line x1="108.20" y1="538.20" x2="108.20" y2="540.70" stroke="#666" stroke-width="0.8"/>
<line x1="119.30" y1="538.20" x2="119.30" y2="540.70" stroke="#666" stroke-width="0.8"/>
<line x1="130.40" y1="538.20" x2="130.40" y2="540.70" stroke="#666" stroke-width="0.8"/>
<line x1="141.50" y1="538.20" x2="141.50" y2="540.70" stroke="#666" stroke-width="0.8"/>
<line x1="152.60" y1="538.20" x2="152.60" y2="540.70" stroke="#666" stroke-width="0.8"/>
<line x1="163.70" y1="538.20" x2="163.70" y2="540.70" stroke="#666" stroke-width="0.8"/>
<line x1="174.80" y1="538.20" x2="174.80" y2="540.70" stroke="#666" stroke-width="0.8"/>
<line x1="185.90" y1="538.20" x2="185.90" y2="540.70" stroke="#666" stroke-width="0.8"/>
<line x1="197.00" y1="538.20" x2="197.00" y2="540.70" stroke="#666" stroke-width="0.8"/>
<line x1="208.10" y1="538.20" x2="208.10" y2="540.70" stroke="#666" stroke-width="0.8"/>
<line x1="219.20" y1="538.20" x2="219.20" y2="540.70" stroke="#666" stroke-width="0.8"/>
<line x1="230.30" y1="538.20" x2="230.30" y2="540.70" stroke="#666" stroke-width="0.8"/>
<line x1="241.40" y1="538.20" x2="241.40" y2="540.70" stroke="#666" stroke-width="0.8"/>
<line x1="252.50" y1="538.20" x2="252.50" y2="540.70" stroke="#666" stroke-width="0.8"/>
<rect x="24.30" y="564.30" width="239.00" height="23.10" fill="none" stroke="#7a7a7a" stroke-width="1"/>
<polygon points="24.80,586.8 24.80,586.4 25.05,586.3 25.30,586.5 25.55,586.3 25.80,586.3 26.05,585.9 26.30,585.4 26.55,585.4 26.80,585.3 27.05,585.4 27.30,585.4 27.55,585.4 27.80,585.9 28.05,586.0 28.30,585.8 28.55,585.7 28.80,585.8 29.05,585.3 29.30,585.4 29.55,585.5 29.80,585.3 30.05,585.6 30.30,585.7 30.55,585.4 30.80,585.6 31.05,585.3 31.30,584.8 31.55,585.1 31.80,585.2 32.05,585.8 32.30,586.1 32.55,586.3 32.80,585.5 33.05,585.4 33.30,584.9 33.55,582.7 33.80,585.1 34.05,584.8 34.30,585.5 34.55,585.8 34.80,582.2 35.05,580.0 35.30,584.0 35.55,585.8 35.80,586.2 36.05,585.3 36.30,585.9 36.55,585.7 36.80,585.1 37.05,585.7 37.30,577.2 37.55,585.3 37.80,585.5 38.05,585.0 38.30,584.6 38.55,582.6 38.80,584.6 39.05,585.4 39.30,585.4 39.55,585.3 39.80,582.8 40.05,581.0 40.30,584.4 40.55,584.1 40.80,585.4 41.05,585.7 41.30,585.6 41.55,586.0 41.80,586.2 42.05,583.8 42.30,585.7 42.55,585.6 42.80,585.6 43.05,585.7 43.30,586.0 43.55,585.4 43.80,586.0 44.05,577.4 44.30,585.8 44.55,585.9 44.80,580.2 45.05,586.3 45.30,586.4 45.55,585.5 45.80,582.8 46.05,581.0 46.30,584.4 46.55,585.7 46.80,580.3 47.05,585.4 47.30,585.1 47.55,584.8 47.80,577.6 48.05,584.7 48.30,584.6 48.55,584.1 48.80,584.6 49.05,584.8 49.30,585.0 49.55,577.1 49.80,584.8 50.05,584.7 50.30,585.2 50.55,585.0 50.80,584.8 51.05,585.6 51.30,585.4 51.55,585.3 51.80,582.2 52.05,580.0 52.30,584.0 52.55,585.6 52.80,585.6 53.05,585.0 53.30,585.2 53.55,585.5 53.80,586.0 54.05,582.4 54.30,585.6 54.55,585.4 54.80,580.4 55.05,585.7 55.30,585.1 55.55,585.4 55.80,585.7 56.05,586.0 56.30,585.8 56.55,585.5 56.80,584.9 57.05,585.0 57.30,585.7 57.55,585.4 57.80,581.5 58.05,579.0 58.30,583.6 58.55,585.1 58.80,584.9 59.05,585.3 59.30,584.8 59.55,583.0 59.80,585.0 60.05,585.4 60.30,585.4 60.55,584.9 60.80,585.0 61.05,585.4 61.30,585.4 61.55,585.8 61.80,585.0 62.05,585.5 62.30,586.0 62.55,586.2 62.80,586.1 63.05,586.4 63.30,585.6 63.55,585.6 63.80,582.8 64.05,581.0 64.30,582.3 64.55,585.5 64.80,585.3 65.05,585.4 65.30,585.3 65.55,584.9 65.80,584.7 66.05,585.4 66.30,585.2 66.55,584.8 66.80,583.3 67.05,585.1 67.30,584.8 67.55,585.5 67.80,585.5 68.05,584.5 68.30,584.9 68.55,584.3 68.80,585.0 69.05,585.0 69.30,585.1 69.55,585.6 69.80,582.8 70.05,581.0 70.30,584.4 70.55,585.2 70.80,585.8 71.05,585.9 71.30,585.7 71.55,585.1 71.80,585.0 72.05,585.5 72.30,585.4 72.55,585.4 72.80,585.0 73.05,585.1 73.30,584.7 73.55,583.5 73.80,585.1 74.05,585.2 74.30,583.8 74.55,585.1 74.80,583.5 75.05,581.9 75.30,584.8 75.55,584.8 75.80,585.3 76.05,585.2 76.30,585.8 76.55,585.8 76.80,585.2 77.05,585.5 77.30,585.5 77.55,585.7 77.80,585.4 78.05,585.0 78.30,584.7 78.55,584.7 78.80,585.5 79.05,585.6 79.30,585.8 79.55,585.3 79.80,585.5 80.05,585.2 80.30,585.1 80.55,584.7 80.80,584.9 81.05,585.5 81.30,582.7 81.55,573.1 81.80,585.6 82.05,573.2 82.30,585.0 82.55,584.6 82.80,585.0 83.05,584.6 83.30,585.4 83.55,585.5 83.80,581.2 84.05,585.8 84.30,586.1 84.55,585.8 84.80,585.8 85.05,585.5 85.30,585.9 85.55,586.2 85.80,581.7 86.05,586.1 86.30,585.9 86.55,585.5 86.80,585.7 87.05,585.8 87.30,585.5 87.55,585.6 87.80,585.4 88.05,585.5 88.30,585.4 88.55,585.3 88.80,585.6 89.05,585.7 89.30,584.3 89.55,585.9 89.80,586.1 90.05,585.7 90.30,585.8 90.55,585.6 90.80,585.9 91.05,585.9 91.30,585.9 91.55,586.1 91.80,586.2 92.05,586.3 92.30,585.7 92.55,586.1 92.80,586.4 93.05,582.0 93.30,585.9 93.55,585.7 93.80,585.7 94.05,585.9 94.30,585.8 94.55,585.5 94.80,585.3 95.05,585.5 95.30,584.1 95.55,586.1 95.80,586.3 96.05,586.0 96.30,586.1 96.55,585.9 96.80,586.2 97.05,586.3 97.30,585.9 97.55,585.5 97.80,586.0 98.05,586.2 98.30,581.2 98.55,585.8 98.80,584.0 99.05,585.3 99.30,585.9 99.55,585.8 99.80,583.5 100.05,585.6 100.30,584.5 100.55,586.2 100.80,582.8 101.05,586.0 101.30,585.6 101.55,582.4 101.80,585.8 102.05,585.6 102.30,583.4 102.55,585.4 102.80,585.9 103.05,586.1 103.30,586.4 103.55,585.9 103.80,586.0 104.05,585.8 104.30,585.9 104.55,585.9 104.80,586.2 105.05,586.1 105.30,585.9 105.55,585.5 105.80,585.3 106.05,585.7 106.30,586.1 106.55,582.9 106.80,586.2 107.05,586.4 107.30,586.2 107.55,586.0 107.80,586.0 108.05,579.7 108.30,586.2 108.55,585.8 108.80,585.7 109.05,585.5 109.30,585.8 109.55,585.9 109.80,585.9 110.05,585.6 110.30,585.4 110.55,585.2 110.80,585.7 111.05,585.4 111.30,585.9 111.55,585.7 111.80,585.8 112.05,586.0 112.30,585.6 112.55,586.1 112.80,586.2 113.05,586.3 113.30,586.2 113.55,586.4 113.80,586.4 114.05,585.8 114.30,585.9 114.55,585.8 114.80,586.0 115.05,585.5 115.30,586.0 115.55,586.2 115.80,586.4 116.05,586.2 116.30,582.1 116.55,585.8 116.80,585.6 117.05,585.3 117.30,585.2 117.55,583.3 117.80,585.1 118.05,585.1 118.30,585.5 118.55,585.4 118.80,585.3 119.05,585.4 119.30,585.4 119.55,585.4 119.80,585.8 120.05,586.0 120.30,584.2 120.55,582.2 120.80,586.2 121.05,586.3 121.30,585.7 121.55,585.8 121.80,569.6 122.05,585.5 122.30,585.3 122.55,585.4 122.80,585.8 123.05,585.9 123.30,585.6 123.55,585.8 123.80,585.4 124.05,585.9 124.30,584.3 124.55,585.9 124.80,586.0 125.05,586.2 125.30,585.8 125.55,586.0 125.80,582.1 126.05,585.8 126.30,585.6 126.55,585.8 126.80,586.1 127.05,585.7 127.30,585.3 127.55,585.8 127.80,585.8 128.05,586.0 128.30,585.7 128.55,585.7 128.80,585.4 129.05,585.5 129.30,585.3 129.55,585.6 129.80,585.1 130.05,585.9 130.30,585.8 130.55,585.8 130.80,585.5 131.05,585.3 131.30,585.7 131.55,585.9 131.80,585.7 132.05,585.9 132.30,586.0 132.55,585.7 132.80,585.4 133.05,585.2 133.30,585.5 133.55,584.8 133.80,586.0 134.05,586.3 134.30,586.4 134.55,585.8 134.80,585.9 135.05,583.7 135.30,585.4 135.55,586.5 135.80,586.3 136.05,586.4 136.30,585.8 136.55,586.2 136.80,586.4 137.05,585.4 137.30,586.5 137.55,586.5 137.80,586.6 138.05,586.1 138.30,586.1 138.55,585.8 138.80,585.9 139.05,585.7 139.30,585.9 139.55,586.1 139.80,586.2 140.05,583.6 140.30,586.2 140.55,586.4 140.80,586.0 141.05,586.1 141.30,586.1 141.55,586.1 141.80,585.7 142.05,584.8 142.30,585.8 142.55,584.0 142.80,585.7 143.05,585.8 143.30,583.1 143.55,586.0 143.80,585.5 144.05,585.3 144.30,585.4 144.55,584.2 144.80,586.0 145.05,585.8 145.30,585.5 145.55,585.7 145.80,585.8 146.05,585.8 146.30,585.6 146.55,585.9 146.80,585.7 147.05,585.5 147.30,585.2 147.55,585.1 147.80,585.0 148.05,584.5 148.30,585.8 148.55,585.4 148.80,585.7 149.05,585.7 149.30,585.6 149.55,585.6 149.80,585.5 150.05,585.4 150.30,585.6 150.55,585.4 150.80,585.2 151.05,585.5 151.30,585.8 151.55,585.9 151.80,586.1 152.05,585.6 152.30,584.0 152.55,585.6 152.80,585.9 153.05,582.7 153.30,585.9 153.55,586.1 153.80,586.0 154.05,586.1 154.30,586.0 154.55,585.9 154.80,586.1 155.05,586.3 155.30,586.2 155.55,584.8 155.80,586.2 156.05,586.0 156.30,585.6 156.55,586.0 156.80,585.9 157.05,586.0 157.30,586.3 157.55,585.8 157.80,585.4 158.05,585.2 158.30,575.6 158.55,584.1 158.80,585.7 159.05,585.5 159.30,585.7 159.55,586.1 159.80,585.7 160.05,586.1 160.30,582.2 160.55,585.3 160.80,585.2 161.05,584.4 161.30,585.0 161.55,585.4 161.80,585.8 162.05,585.5 162.30,585.4 162.55,585.4 162.80,585.7 163.05,585.9 163.30,583.6 163.55,584.3 163.80,585.1 164.05,586.3 164.30,586.2 164.55,586.4 164.80,585.8 165.05,585.6 165.30,586.0 165.55,586.3 165.80,585.9 166.05,586.1 166.30,586.0 166.55,586.2 166.80,585.7 167.05,585.5 167.30,585.4 167.55,585.3 167.80,585.5 168.05,585.8 168.30,585.9 168.55,585.5 168.80,585.4 169.05,584.9 169.30,585.4 169.55,585.2 169.80,585.6 170.05,585.3 170.30,585.4 170.55,583.4 170.80,585.6 171.05,586.0 171.30,586.0 171.55,586.3 171.80,586.0 172.05,586.1 172.30,585.8 172.55,585.7 172.80,585.6 173.05,584.4 173.30,573.8 173.55,567.7 173.80,579.1 174.05,585.2 174.30,585.5 174.55,585.9 174.80,586.0 175.05,586.3 175.30,586.3 175.55,586.3 175.80,585.9 176.05,585.7 176.30,585.7 176.55,585.3 176.80,585.7 177.05,585.7 177.30,585.4 177.55,583.6 177.80,585.8 178.05,585.9 178.30,585.8 178.55,585.9 178.80,585.7 179.05,585.3 179.30,585.8 179.55,586.1 179.80,585.9 180.05,586.0 180.30,585.4 180.55,585.6 180.80,585.5 181.05,585.7 181.30,585.5 181.55,577.5 181.80,585.7 182.05,585.6 182.30,584.9 182.55,584.6 182.80,585.7 183.05,585.4 183.30,585.8 183.55,585.6 183.80,585.8 184.05,585.7 184.30,585.8 184.55,585.9 184.80,584.5 185.05,585.9 185.30,585.9 185.55,585.7 185.80,582.0 186.05,585.7 186.30,585.8 186.55,585.6 186.80,586.0 187.05,585.2 187.30,585.6 187.55,585.8 187.80,585.8 188.05,585.8 188.30,585.8 188.55,585.5 188.80,585.3 189.05,584.6 189.30,586.1 189.55,586.0 189.80,586.0 190.05,586.0 190.30,585.6 190.55,585.5 190.80,585.7 191.05,586.0 191.30,585.7 191.55,585.9 191.80,585.7 192.05,586.1 192.30,585.9 192.55,580.8 192.80,581.7 193.05,585.3 193.30,585.9 193.55,586.0 193.80,585.3 194.05,582.8 194.30,583.3 194.55,585.6 194.80,585.5 195.05,585.8 195.30,585.5 195.55,585.8 195.80,585.8 196.05,585.9 196.30,585.7 196.55,586.0 196.80,584.7 197.05,585.5 197.30,585.6 197.55,586.0 197.80,586.3 198.05,585.6 198.30,586.3 198.55,585.9 198.80,586.2 199.05,581.5 199.30,585.6 199.55,585.6 199.80,585.4 200.05,585.7 200.30,585.7 200.55,585.9 200.80,583.9 201.05,585.6 201.30,585.7 201.55,586.1 201.80,581.3 202.05,585.9 202.30,585.5 202.55,585.4 202.80,580.6 203.05,585.7 203.30,585.5 203.55,585.4 203.80,585.5 204.05,585.7 204.30,586.1 204.55,585.1 204.80,585.9 205.05,584.6 205.30,586.1 205.55,583.5 205.80,586.3 206.05,585.8 206.30,585.9 206.55,585.7 206.80,585.4 207.05,585.4 207.30,585.8 207.55,584.5 207.80,585.9 208.05,586.1 208.30,586.3 208.55,586.4 208.80,585.9 209.05,585.7 209.30,585.7 209.55,585.4 209.80,585.4 210.05,585.8 210.30,584.8 210.55,585.6 210.80,586.1 211.05,585.3 211.30,586.3 211.55,586.0 211.80,586.3 212.05,585.9 212.30,585.5 212.55,585.8 212.80,585.5 213.05,575.2 213.30,585.6 213.55,585.5 213.80,585.1 214.05,584.5 214.30,585.4 214.55,585.2 214.80,585.1 215.05,585.8 215.30,583.7 215.55,586.1 215.80,586.1 216.05,586.3 216.30,586.3 216.55,585.6 216.80,586.2 217.05,586.3 217.30,586.0 217.55,585.6 217.80,585.8 218.05,586.1 218.30,586.1 218.55,585.8 218.80,586.1 219.05,585.7 219.30,586.1 219.55,586.1 219.80,585.8 220.05,580.5 220.30,585.4 220.55,585.3 220.80,585.3 221.05,585.9 221.30,585.9 221.55,585.8 221.80,585.6 222.05,586.0 222.30,586.1 222.55,586.0 222.80,585.1 223.05,575.3 223.30,564.8 223.55,575.3 223.80,585.1 224.05,585.9 224.30,586.2 224.55,585.2 224.80,585.6 225.05,585.5 225.30,585.4 225.55,584.7 225.80,575.6 226.05,570.2 226.30,580.1 226.55,586.1 226.80,585.7 227.05,585.4 227.30,585.4 227.55,585.5 227.80,585.7 228.05,585.9 228.30,585.6 228.55,585.7 228.80,585.4 229.05,585.7 229.30,585.9 229.55,586.2 229.80,586.0 230.05,582.9 230.30,574.2 230.55,575.7 230.80,584.1 231.05,573.1 231.30,584.5 231.55,585.8 231.80,585.1 232.05,585.5 232.30,585.3 232.55,585.6 232.80,585.5 233.05,585.5 233.30,585.3 233.55,585.4 233.80,585.8 234.05,586.1 234.30,586.0 234.55,586.2 234.80,586.2 235.05,586.0 235.30,585.8 235.55,581.0 235.80,575.8 236.05,581.0 236.30,585.6 236.55,584.8 236.80,585.9 237.05,585.5 237.30,585.4 237.55,585.4 237.80,585.9 238.05,585.9 238.30,586.0 238.55,586.2 238.80,586.2 239.05,585.7 239.30,585.1 239.55,585.5 239.80,585.6 240.05,585.3 240.30,585.3 240.55,585.9 240.80,585.6 241.05,585.4 241.30,585.4 241.55,585.8 241.80,585.9 242.05,586.0 242.30,585.5 242.55,585.3 242.80,585.5 243.05,584.9 243.30,576.9 243.55,572.2 243.80,580.9 244.05,585.5 244.30,583.1 244.55,585.5 244.80,585.5 245.05,585.7 245.30,585.4 245.55,585.7 245.80,585.6 246.05,584.8 246.30,585.8 246.55,586.0 246.80,585.7 247.05,585.8 247.30,586.0 247.55,585.6 247.80,585.4 248.05,585.8 248.30,585.6 248.55,585.0 248.80,585.9 249.05,586.2 249.30,585.7 249.55,585.7 249.80,585.3 250.05,584.7 250.30,585.4 250.55,585.7 250.80,586.0 251.05,585.7 251.30,585.9 251.55,586.2 251.80,586.4 252.05,583.0 252.30,584.7 252.55,585.7 252.80,586.0 253.05,585.9 253.30,585.8 253.55,585.8 253.80,577.9 254.05,585.4 254.30,586.0 254.55,585.8 254.80,575.6 255.05,584.0 255.30,577.8 255.55,578.9 255.80,584.9 256.05,585.6 256.30,586.0 256.55,586.0 256.80,585.8 257.05,585.4 257.30,585.4 257.55,585.7 257.80,586.1 258.05,585.8 258.30,585.9 258.55,585.5 258.80,585.6 259.05,585.8 259.30,585.8 259.55,586.1 259.80,585.8 260.05,585.7 260.30,585.5 260.55,585.8 260.80,586.1 261.05,584.9 261.30,585.9 261.55,586.2 261.80,585.9 262.05,586.1 262.30,585.6 262.55,585.7 262.80,585.4 262.80,586.8" fill="#e8642a"/>
<line x1="24.30" y1="586.80" x2="263.30" y2="586.80" stroke="#c04a18" stroke-width="1.6"/>
<line x1="30.50" y1="564.30" x2="30.50" y2="566.80" stroke="#666" stroke-width="0.8"/>
<line x1="41.60" y1="564.30" x2="41.60" y2="566.80" stroke="#666" stroke-width="0.8"/>
<line x1="52.70" y1="564.30" x2="52.70" y2="566.80" stroke="#666" stroke-width="0.8"/>
<line x1="63.80" y1="564.30" x2="63.80" y2="566.80" stroke="#666" stroke-width="0.8"/>
<line x1="74.90" y1="564.30" x2="74.90" y2="566.80" stroke="#666" stroke-width="0.8"/>
<line x1="86.00" y1="564.30" x2="86.00" y2="566.80" stroke="#666" stroke-width="0.8"/>
<line x1="97.10" y1="564.30" x2="97.10" y2="566.80" stroke="#666" stroke-width="0.8"/>
<line x1="108.20" y1="564.30" x2="108.20" y2="566.80" stroke="#666" stroke-width="0.8"/>
<line x1="119.30" y1="564.30" x2="119.30" y2="566.80" stroke="#666" stroke-width="0.8"/>
<line x1="130.40" y1="564.30" x2="130.40" y2="566.80" stroke="#666" stroke-width="0.8"/>
<line x1="141.50" y1="564.30" x2="141.50" y2="566.80" stroke="#666" stroke-width="0.8"/>
<line x1="152.60" y1="564.30" x2="152.60" y2="566.80" stroke="#666" stroke-width="0.8"/>
<line x1="163.70" y1="564.30" x2="163.70" y2="566.80" stroke="#666" stroke-width="0.8"/>
<line x1="174.80" y1="564.30" x2="174.80" y2="566.80" stroke="#666" stroke-width="0.8"/>
<line x1="185.90" y1="564.30" x2="185.90" y2="566.80" stroke="#666" stroke-width="0.8"/>
<line x1="197.00" y1="564.30" x2="197.00" y2="566.80" stroke="#666" stroke-width="0.8"/>
<line x1="208.10" y1="564.30" x2="208.10" y2="566.80" stroke="#666" stroke-width="0.8"/>
<line x1="219.20" y1="564.30" x2="219.20" y2="566.80" stroke="#666" stroke-width="0.8"/>
<line x1="230.30" y1="564.30" x2="230.30" y2="566.80" stroke="#666" stroke-width="0.8"/>
<line x1="241.40" y1="564.30" x2="241.40" y2="566.80" stroke="#666" stroke-width="0.8"/>
<line x1="252.50" y1="564.30" x2="252.50" y2="566.80" stroke="#666" stroke-width="0.8"/>
<text x="22.3" y="520.4" font-family="Liberation Sans" font-size="8.2" font-weight="bold" text-anchor="end" fill="#000">30</text>
<text x="22.3" y="536.0" font-family="Liberation Sans" font-size="8.2" font-weight="bold" text-anchor="end" fill="#000">0</text>
<text x="22.3" y="545.6999999999999" font-family="Liberation Sans" font-size="8.2" font-weight="bold" text-anchor="end" fill="#000">35</text>
<text x="22.3" y="561.7" font-family="Liberation Sans" font-size="8.2" font-weight="bold" text-anchor="end" fill="#000">0</text>
<text x="22.3" y="570.8" font-family="Liberation Sans" font-size="8.2" font-weight="bold" text-anchor="end" fill="#000">20</text>
<text x="22.3" y="587.3000000000001" font-family="Liberation Sans" font-size="8.2" font-weight="bold" text-anchor="end" fill="#000">0</text>
<text x="265.6" y="549" font-family="Liberation Sans" font-size="10" font-weight="bold" text-anchor="middle" fill="#000" transform="rotate(90 265.6 549)">RUNX1</text>
<rect x="213.70" y="508.70" width="18.60" height="85.90" fill="none" stroke="#8a1a1a" stroke-width="1.6"/>
<text x="6.2" y="603" font-family="Liberation Sans" font-size="9.6" font-weight="bold" text-anchor="start" fill="#000">ITPR1</text>
<rect x="118.00" y="599.30" width="34.00" height="4.40" fill="#d8d8d8" stroke="none" stroke-width="1"/>
<line x1="37.00" y1="601.50" x2="232.00" y2="601.50" stroke="#000" stroke-width="0.8"/>
<path d="M37.9,600.0L39.9,601.5L37.9,603.0ZM41.0,600.0L43.0,601.5L41.0,603.0ZM44.1,600.0L46.1,601.5L44.1,603.0ZM47.2,600.0L49.2,601.5L47.2,603.0ZM50.3,600.0L52.3,601.5L50.3,603.0ZM53.4,600.0L55.4,601.5L53.4,603.0ZM56.5,600.0L58.5,601.5L56.5,603.0ZM59.6,600.0L61.6,601.5L59.6,603.0ZM62.7,600.0L64.7,601.5L62.7,603.0ZM65.8,600.0L67.8,601.5L65.8,603.0ZM68.9,600.0L70.9,601.5L68.9,603.0ZM72.0,600.0L74.0,601.5L72.0,603.0ZM75.1,600.0L77.1,601.5L75.1,603.0ZM78.2,600.0L80.2,601.5L78.2,603.0ZM81.3,600.0L83.3,601.5L81.3,603.0ZM84.4,600.0L86.4,601.5L84.4,603.0ZM87.5,600.0L89.5,601.5L87.5,603.0ZM90.6,600.0L92.6,601.5L90.6,603.0ZM93.7,600.0L95.7,601.5L93.7,603.0ZM96.8,600.0L98.8,601.5L96.8,603.0ZM99.9,600.0L101.9,601.5L99.9,603.0ZM103.0,600.0L105.0,601.5L103.0,603.0ZM106.1,600.0L108.1,601.5L106.1,603.0ZM109.2,600.0L111.2,601.5L109.2,603.0ZM112.3,600.0L114.3,601.5L112.3,603.0ZM115.4,600.0L117.4,601.5L115.4,603.0ZM118.5,600.0L120.5,601.5L118.5,603.0ZM121.6,600.0L123.6,601.5L121.6,603.0ZM124.7,600.0L126.7,601.5L124.7,603.0ZM127.8,600.0L129.8,601.5L127.8,603.0ZM130.9,600.0L132.9,601.5L130.9,603.0ZM134.0,600.0L136.0,601.5L134.0,603.0ZM137.1,600.0L139.1,601.5L137.1,603.0ZM140.2,600.0L142.2,601.5L140.2,603.0ZM143.3,600.0L145.3,601.5L143.3,603.0ZM146.4,600.0L148.4,601.5L146.4,603.0ZM149.5,600.0L151.5,601.5L149.5,603.0ZM152.6,600.0L154.6,601.5L152.6,603.0ZM155.7,600.0L157.7,601.5L155.7,603.0ZM158.8,600.0L160.8,601.5L158.8,603.0ZM161.9,600.0L163.9,601.5L161.9,603.0ZM165.0,600.0L167.0,601.5L165.0,603.0ZM168.1,600.0L170.1,601.5L168.1,603.0ZM171.2,600.0L173.2,601.5L171.2,603.0ZM174.3,600.0L176.3,601.5L174.3,603.0ZM177.4,600.0L179.4,601.5L177.4,603.0ZM180.5,600.0L182.5,601.5L180.5,603.0ZM183.6,600.0L185.6,601.5L183.6,603.0ZM186.7,600.0L188.7,601.5L186.7,603.0ZM189.8,600.0L191.8,601.5L189.8,603.0ZM192.9,600.0L194.9,601.5L192.9,603.0ZM196.0,600.0L198.0,601.5L196.0,603.0ZM199.1,600.0L201.1,601.5L199.1,603.0ZM202.2,600.0L204.2,601.5L202.2,603.0ZM205.3,600.0L207.3,601.5L205.3,603.0ZM208.4,600.0L210.4,601.5L208.4,603.0ZM211.5,600.0L213.5,601.5L211.5,603.0ZM214.6,600.0L216.6,601.5L214.6,603.0ZM217.7,600.0L219.7,601.5L217.7,603.0ZM220.8,600.0L222.8,601.5L220.8,603.0ZM223.9,600.0L225.9,601.5L223.9,603.0ZM227.0,600.0L229.0,601.5L227.0,603.0Z" fill="#000" fill-opacity="0.85"/>
<line x1="232.00" y1="599.00" x2="232.00" y2="604.00" stroke="#000" stroke-width="0.8"/>
<line x1="180.00" y1="599.75" x2="180.00" y2="603.25" stroke="#000" stroke-width="0.8"/>
<line x1="120.00" y1="600.00" x2="120.00" y2="603.00" stroke="#000" stroke-width="0.8"/>
<line x1="125.00" y1="600.00" x2="125.00" y2="603.00" stroke="#000" stroke-width="0.8"/>
<line x1="131.00" y1="600.00" x2="131.00" y2="603.00" stroke="#000" stroke-width="0.8"/>
<line x1="138.00" y1="600.00" x2="138.00" y2="603.00" stroke="#000" stroke-width="0.8"/>
<line x1="146.00" y1="600.00" x2="146.00" y2="603.00" stroke="#000" stroke-width="0.8"/>
<path d="M259.8,599.3 L262.8,601.5 L259.8,603.7 Z" fill="#000"/>
<rect x="26.80" y="624.50" width="233.20" height="57.70" fill="#fff" stroke="#000" stroke-width="1.6"/>
<text x="33.1" y="635.0" font-family="Liberation Mono" font-size="8.1" font-weight="bold" text-anchor="start" fill="#111" stroke="#111" stroke-width="0.18">Human</text>
<text x="71.7" y="635.0" font-family="Liberation Mono" font-size="8.1" font-weight="bold" text-anchor="start" fill="#111" stroke="#111" stroke-width="0.18">agaaccttagcacctgtggtcagcctgcttccggc</text>
<text x="33.1" y="644.72" font-family="Liberation Mono" font-size="8.1" font-weight="bold" text-anchor="start" fill="#111" stroke="#111" stroke-width="0.18">Mouse</text>
<text x="71.7" y="644.72" font-family="Liberation Mono" font-size="8.1" font-weight="bold" text-anchor="start" fill="#111" stroke="#111" stroke-width="0.18">agaacttcagcacctgtggttagcctgcttccggc</text>
<text x="33.1" y="654.44" font-family="Liberation Mono" font-size="8.1" font-weight="bold" text-anchor="start" fill="#111" stroke="#111" stroke-width="0.18">Dog</text>
<text x="71.7" y="654.44" font-family="Liberation Mono" font-size="8.1" font-weight="bold" text-anchor="start" fill="#111" stroke="#111" stroke-width="0.18">agaactttagcacctgtggtcagcctgcttccggc</text>
<text x="33.1" y="664.16" font-family="Liberation Mono" font-size="8.1" font-weight="bold" text-anchor="start" fill="#111" stroke="#111" stroke-width="0.18">Opossum</text>
<text x="71.7" y="664.16" font-family="Liberation Mono" font-size="8.1" font-weight="bold" text-anchor="start" fill="#111" stroke="#111" stroke-width="0.18">agaaccccagcccctgtggttagcctgtttccgcc</text>
<text x="33.1" y="673.88" font-family="Liberation Mono" font-size="8.1" font-weight="bold" text-anchor="start" fill="#111" stroke="#111" stroke-width="0.18">Chicken</text>
<text x="71.7" y="673.88" font-family="Liberation Mono" font-size="8.1" font-weight="bold" text-anchor="start" fill="#111" stroke="#111" stroke-width="0.18">cgaaacccagcccctgcggttagccagcttccgtc</text>
<rect x="135.20" y="625.90" width="36.80" height="56.10" fill="none" stroke="#8a1a1a" stroke-width="1.4"/>
<rect x="198.30" y="625.90" width="37.10" height="56.10" fill="none" stroke="#8a1a1a" stroke-width="1.4"/>
<line x1="402.00" y1="514.30" x2="402.00" y2="579.60" stroke="#000" stroke-width="1.6"/>
<line x1="397.50" y1="579.60" x2="402.00" y2="579.60" stroke="#000" stroke-width="1.5"/>
<text x="392.2" y="583.1" font-family="Liberation Serif" font-size="10.2" font-weight="bold" text-anchor="end" fill="#000">0</text>
<line x1="397.50" y1="558.05" x2="402.00" y2="558.05" stroke="#000" stroke-width="1.5"/>
<text x="392.2" y="561.5500000000001" font-family="Liberation Serif" font-size="10.2" font-weight="bold" text-anchor="end" fill="#000">10</text>
<line x1="397.50" y1="536.50" x2="402.00" y2="536.50" stroke="#000" stroke-width="1.5"/>
<text x="392.2" y="540.0" font-family="Liberation Serif" font-size="10.2" font-weight="bold" text-anchor="end" fill="#000">20</text>
<line x1="397.50" y1="514.95" x2="402.00" y2="514.95" stroke="#000" stroke-width="1.5"/>
<text x="392.2" y="518.45" font-family="Liberation Serif" font-size="10.2" font-weight="bold" text-anchor="end" fill="#000">30</text>
<line x1="401.20" y1="579.60" x2="481.50" y2="579.60" stroke="#000" stroke-width="1.6"/>
<text x="377.7" y="548.3" font-family="Liberation Sans" font-size="10" font-weight="bold" text-anchor="middle" fill="#000" transform="rotate(-90 377.7 548.3)">Fold enrichment</text>
<rect x="405.00" y="577.90" width="15.10" height="1.70" fill="#444" stroke="#000" stroke-width="1.9"/>
<rect x="426.10" y="554.70" width="14.20" height="24.90" fill="#8c8c8c" stroke="#000" stroke-width="1.9"/>
<line x1="433.20" y1="546.60" x2="433.20" y2="563.90" stroke="#000" stroke-width="1.7"/>
<line x1="429.20" y1="546.60" x2="437.20" y2="546.60" stroke="#000" stroke-width="1.8"/>
<line x1="429.20" y1="563.90" x2="437.20" y2="563.90" stroke="#000" stroke-width="1.8"/>
<rect x="446.00" y="559.00" width="14.70" height="20.60" fill="#8c8c8c" stroke="#000" stroke-width="1.9"/>
<line x1="453.35" y1="554.70" x2="453.35" y2="564.20" stroke="#000" stroke-width="1.7"/>
<line x1="449.35" y1="554.70" x2="457.35" y2="554.70" stroke="#000" stroke-width="1.8"/>
<line x1="449.35" y1="564.20" x2="457.35" y2="564.20" stroke="#000" stroke-width="1.8"/>
<rect x="466.30" y="541.70" width="14.70" height="37.90" fill="#8c8c8c" stroke="#000" stroke-width="1.9"/>
<line x1="473.65" y1="532.20" x2="473.65" y2="551.20" stroke="#000" stroke-width="1.7"/>
<line x1="469.65" y1="532.20" x2="477.65" y2="532.20" stroke="#000" stroke-width="1.8"/>
<line x1="469.65" y1="551.20" x2="477.65" y2="551.20" stroke="#000" stroke-width="1.8"/>
<text x="425.8" y="506.8" font-family="Liberation Sans" font-size="9" font-weight="bold"><tspan font-family="Liberation Serif" font-weight="normal" font-size="11.2">&#945;</tspan><tspan font-family="Liberation Sans">RUNX1</tspan></text>
<line x1="402.80" y1="508.30" x2="481.50" y2="508.30" stroke="#000" stroke-width="1.6"/>
<text x="408.0" y="587.2" font-family="Liberation Sans" font-size="7.8" font-weight="bold" text-anchor="start" fill="#000" transform="rotate(45 408.0 587.2)">NIS</text>
<text x="428.8" y="587.2" font-family="Liberation Sans" font-size="7.8" font-weight="bold" text-anchor="start" fill="#000" transform="rotate(45 428.8 587.2)">CONT</text>
<text x="449.59999999999997" y="587.2" font-family="Liberation Sans" font-size="7.8" font-weight="bold" text-anchor="start" fill="#000" transform="rotate(45 449.59999999999997 587.2)">TPA</text>
<text x="468.59999999999997" y="587.2" font-family="Liberation Sans" font-size="7.8" font-weight="bold" text-anchor="start" fill="#000" transform="rotate(45 468.59999999999997 587.2)">CMK</text>
<line x1="400.80" y1="600.50" x2="400.80" y2="669.60" stroke="#000" stroke-width="1.6"/>
<line x1="400.00" y1="669.60" x2="507.50" y2="669.60" stroke="#000" stroke-width="1.6"/>
<line x1="400.80" y1="669.60" x2="400.80" y2="673.00" stroke="#000" stroke-width="1.3"/>
<text x="400.8" y="682.3" font-family="Liberation Serif" font-size="10.5" font-weight="bold" text-anchor="middle" fill="#000">0</text>
<line x1="436.20" y1="669.60" x2="436.20" y2="673.00" stroke="#000" stroke-width="1.3"/>
<text x="436.2" y="682.3" font-family="Liberation Serif" font-size="10.5" font-weight="bold" text-anchor="middle" fill="#000">0.5</text>
<line x1="471.60" y1="669.60" x2="471.60" y2="673.00" stroke="#000" stroke-width="1.3"/>
<text x="471.6" y="682.3" font-family="Liberation Serif" font-size="10.5" font-weight="bold" text-anchor="middle" fill="#000">1</text>
<line x1="507.00" y1="669.60" x2="507.00" y2="673.00" stroke="#000" stroke-width="1.3"/>
<text x="507.0" y="682.3" font-family="Liberation Serif" font-size="10.5" font-weight="bold" text-anchor="middle" fill="#000">1.5</text>
<text x="400.3" y="694.4" font-family="Liberation Sans" font-size="9.4" font-weight="bold" text-anchor="start" fill="#000" textLength="107.5" lengthAdjust="spacingAndGlyphs">Relative luminescence</text>
<rect x="400.80" y="604.90" width="5.20" height="9.30" fill="#333" stroke="#000" stroke-width="1.8"/>
<rect x="400.80" y="620.60" width="87.20" height="10.20" fill="#9a9cf0" stroke="#000" stroke-width="1.8"/>
<line x1="483.00" y1="625.70" x2="493.00" y2="625.70" stroke="#000" stroke-width="1.6"/>
<line x1="483.00" y1="620.60" x2="483.00" y2="630.80" stroke="#000" stroke-width="1.8"/>
<line x1="493.00" y1="622.03" x2="493.00" y2="629.37" stroke="#000" stroke-width="1.8"/>
<rect x="400.80" y="637.70" width="26.50" height="9.50" fill="#9a9cf0" stroke="#000" stroke-width="1.8"/>
<line x1="423.50" y1="642.45" x2="431.50" y2="642.45" stroke="#000" stroke-width="1.6"/>
<line x1="423.50" y1="637.70" x2="423.50" y2="647.20" stroke="#000" stroke-width="1.8"/>
<line x1="431.50" y1="639.03" x2="431.50" y2="645.87" stroke="#000" stroke-width="1.8"/>
<rect x="400.80" y="654.60" width="19.40" height="9.90" fill="#9a9cf0" stroke="#000" stroke-width="1.8"/>
<rect x="417.00" y="654.60" width="3.20" height="9.90" rx="1.2" fill="#000" stroke="#000" stroke-width="1.8"/>
<rect x="390.40" y="604.20" width="6.10" height="11.60" fill="#fff" stroke="#222" stroke-width="1.1"/>
<rect x="317.30" y="620.80" width="78.90" height="11.90" fill="#fff" stroke="#222" stroke-width="1.1"/>
<rect x="323.80" y="620.80" width="30.00" height="11.90" fill="#dff5df" stroke="#222" stroke-width="1.0"/>
<rect x="359.60" y="620.80" width="30.80" height="11.90" fill="#f7f2a6" stroke="#222" stroke-width="1.0"/>
<text x="338.8" y="630.618" font-family="Liberation Sans" font-size="8.8" font-weight="bold" text-anchor="middle" fill="#000">RUNX</text>
<text x="375.0" y="630.618" font-family="Liberation Sans" font-size="8.8" font-weight="bold" text-anchor="middle" fill="#000">ETS</text>
<rect x="317.30" y="636.90" width="78.90" height="12.10" fill="#fff" stroke="#222" stroke-width="1.1"/>
<rect x="323.80" y="636.90" width="30.00" height="12.10" fill="#dff5df" stroke="#222" stroke-width="1.0"/>
<rect x="359.60" y="636.90" width="30.80" height="12.10" fill="#f7f2a6" stroke="#222" stroke-width="1.0"/>
<text x="338.8" y="646.8180000000001" font-family="Liberation Sans" font-size="8.8" font-weight="bold" text-anchor="middle" fill="#000">RUNX</text>
<text x="375.0" y="646.8180000000001" font-family="Liberation Sans" font-size="8.8" font-weight="bold" text-anchor="middle" fill="#000">ETS</text>
<rect x="317.30" y="653.50" width="78.90" height="11.90" fill="#fff" stroke="#222" stroke-width="1.1"/>
<rect x="323.80" y="653.50" width="30.00" height="11.90" fill="#dff5df" stroke="#222" stroke-width="1.0"/>
<rect x="359.60" y="653.50" width="30.80" height="11.90" fill="#f7f2a6" stroke="#222" stroke-width="1.0"/>
<text x="338.8" y="663.3180000000001" font-family="Liberation Sans" font-size="8.8" font-weight="bold" text-anchor="middle" fill="#000">RUNX</text>
<text x="375.0" y="663.3180000000001" font-family="Liberation Sans" font-size="8.8" font-weight="bold" text-anchor="middle" fill="#000">ETS</text>
<path d="M328.3,638.5 L347.5,656.7 M347.5,638.5 L328.3,656.7" stroke="#e32020" stroke-width="2.9" fill="none"/>
<path d="M367.7,653.5 L386,670 M386,653.5 L367.7,670" stroke="#e32020" stroke-width="2.9" fill="none"/>
</svg></body></html>
